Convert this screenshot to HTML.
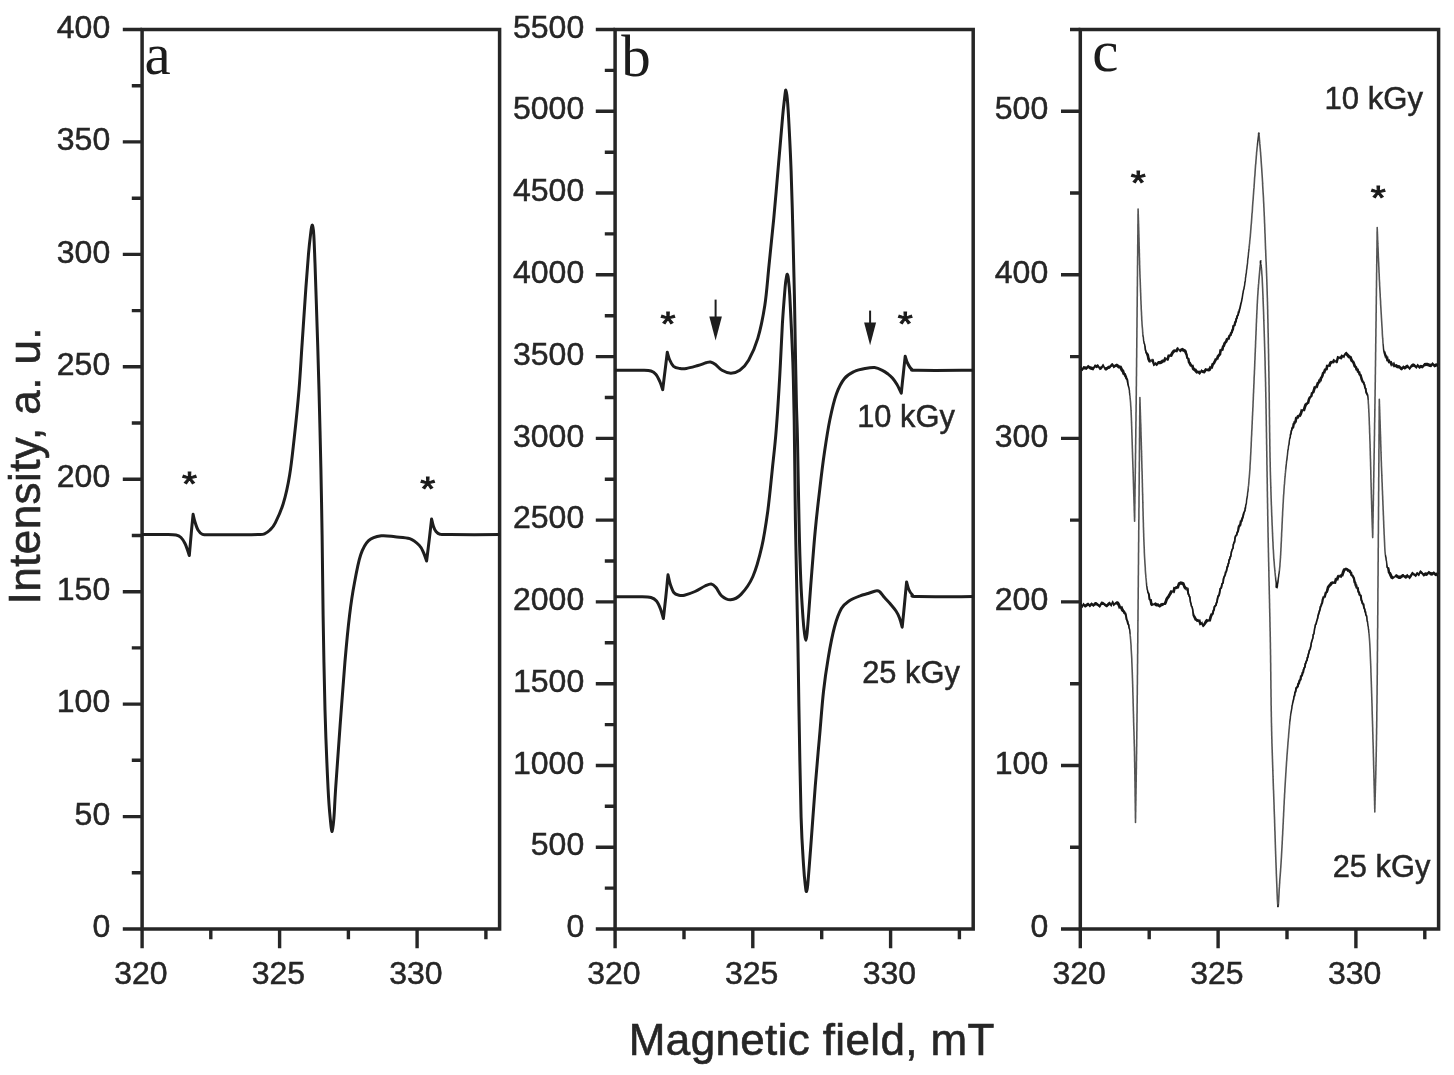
<!DOCTYPE html>
<html lang="en">
<head>
<meta charset="utf-8">
<title>EPR spectra</title>
<style>
html,body{margin:0;padding:0;background:#fff;}
body{width:1454px;height:1075px;overflow:hidden;}
svg{display:block;filter:blur(0.45px);}
text{font-family:"Liberation Sans",Arial,sans-serif;fill:#262626;}
.tk{font-size:32px;stroke:#262626;stroke-width:0.5px;}
.lb{font-size:32px;stroke:#262626;stroke-width:0.5px;}
.ax{font-size:44px;stroke:#262626;stroke-width:0.6px;}
.pl{font-family:"Liberation Serif","Times New Roman",serif;font-size:59px;fill:#1c1c1c;}
.st{fill:#1a1a1a;stroke:#1a1a1a;stroke-width:1px;}
</style>
</head>
<body>
<svg width="1454" height="1075" viewBox="0 0 1454 1075">
<rect width="1454" height="1075" fill="#ffffff"/>
<g id="axes">
<rect x="142.1" y="29.5" width="357.5" height="899.5" fill="none" stroke="#262626" stroke-width="3.5"/>
<path d="M142.1 929V948.3M279.6 929V948.3M417.1 929V948.3M210.8 929V939.3M348.4 929V939.3M485.9 929V939.3" stroke="#262626" stroke-width="3.4" fill="none"/>
<text x="140.9" y="984.2" text-anchor="middle" class="tk">320</text>
<text x="278.4" y="984.2" text-anchor="middle" class="tk">325</text>
<text x="415.9" y="984.2" text-anchor="middle" class="tk">330</text>
<rect x="615.1" y="29.5" width="358.1" height="899.5" fill="none" stroke="#262626" stroke-width="3.5"/>
<path d="M615.1 929V948.3M752.8 929V948.3M890.6 929V948.3M684 929V939.3M821.7 929V939.3M959.4 929V939.3" stroke="#262626" stroke-width="3.4" fill="none"/>
<text x="613.9" y="984.2" text-anchor="middle" class="tk">320</text>
<text x="751.6" y="984.2" text-anchor="middle" class="tk">325</text>
<text x="889.4" y="984.2" text-anchor="middle" class="tk">330</text>
<rect x="1080.3" y="29.5" width="358.3" height="899.5" fill="none" stroke="#262626" stroke-width="3.5"/>
<path d="M1080.3 929V948.3M1218.1 929V948.3M1355.9 929V948.3M1149.2 929V939.3M1287 929V939.3M1424.8 929V939.3" stroke="#262626" stroke-width="3.4" fill="none"/>
<text x="1079.1" y="984.2" text-anchor="middle" class="tk">320</text>
<text x="1216.9" y="984.2" text-anchor="middle" class="tk">325</text>
<text x="1354.7" y="984.2" text-anchor="middle" class="tk">330</text>
<path d="M122.8 929H142.1M122.8 816.6H142.1M122.8 704.1H142.1M122.8 591.7H142.1M122.8 479.3H142.1M122.8 366.8H142.1M122.8 254.4H142.1M122.8 141.9H142.1M122.8 29.5H142.1M131.8 872.8H142.1M131.8 760.3H142.1M131.8 647.9H142.1M131.8 535.5H142.1M131.8 423H142.1M131.8 310.6H142.1M131.8 198.2H142.1M131.8 85.7H142.1" stroke="#262626" stroke-width="3.4" fill="none"/>
<text x="110.2" y="937.1" text-anchor="end" class="tk">0</text>
<text x="110.2" y="824.7" text-anchor="end" class="tk">50</text>
<text x="110.2" y="712.2" text-anchor="end" class="tk">100</text>
<text x="110.2" y="599.8" text-anchor="end" class="tk">150</text>
<text x="110.2" y="487.4" text-anchor="end" class="tk">200</text>
<text x="110.2" y="374.9" text-anchor="end" class="tk">250</text>
<text x="110.2" y="262.5" text-anchor="end" class="tk">300</text>
<text x="110.2" y="150" text-anchor="end" class="tk">350</text>
<text x="110.2" y="37.6" text-anchor="end" class="tk">400</text>
<path d="M595.8 929H615.1M595.8 847.2H615.1M595.8 765.5H615.1M595.8 683.7H615.1M595.8 601.9H615.1M595.8 520.1H615.1M595.8 438.4H615.1M595.8 356.6H615.1M595.8 274.8H615.1M595.8 193H615.1M595.8 111.3H615.1M595.8 29.5H615.1M604.8 888.1H615.1M604.8 806.3H615.1M604.8 724.6H615.1M604.8 642.8H615.1M604.8 561H615.1M604.8 479.2H615.1M604.8 397.5H615.1M604.8 315.7H615.1M604.8 233.9H615.1M604.8 152.2H615.1M604.8 70.4H615.1" stroke="#262626" stroke-width="3.4" fill="none"/>
<text x="584.2" y="937.1" text-anchor="end" class="tk">0</text>
<text x="584.2" y="855.3" text-anchor="end" class="tk">500</text>
<text x="584.2" y="773.6" text-anchor="end" class="tk">1000</text>
<text x="584.2" y="691.8" text-anchor="end" class="tk">1500</text>
<text x="584.2" y="610" text-anchor="end" class="tk">2000</text>
<text x="584.2" y="528.2" text-anchor="end" class="tk">2500</text>
<text x="584.2" y="446.5" text-anchor="end" class="tk">3000</text>
<text x="584.2" y="364.7" text-anchor="end" class="tk">3500</text>
<text x="584.2" y="282.9" text-anchor="end" class="tk">4000</text>
<text x="584.2" y="201.1" text-anchor="end" class="tk">4500</text>
<text x="584.2" y="119.4" text-anchor="end" class="tk">5000</text>
<text x="584.2" y="37.6" text-anchor="end" class="tk">5500</text>
<path d="M1061 929H1080.3M1061 765.5H1080.3M1061 601.9H1080.3M1061 438.4H1080.3M1061 274.8H1080.3M1061 111.3H1080.3M1070 847.2H1080.3M1070 683.7H1080.3M1070 520.1H1080.3M1070 356.6H1080.3M1070 193H1080.3M1070 29.5H1080.3" stroke="#262626" stroke-width="3.4" fill="none"/>
<text x="1048.2" y="937.1" text-anchor="end" class="tk">0</text>
<text x="1048.2" y="773.6" text-anchor="end" class="tk">100</text>
<text x="1048.2" y="610" text-anchor="end" class="tk">200</text>
<text x="1048.2" y="446.5" text-anchor="end" class="tk">300</text>
<text x="1048.2" y="282.9" text-anchor="end" class="tk">400</text>
<text x="1048.2" y="119.4" text-anchor="end" class="tk">500</text>
</g>
<g id="curves" fill="none" stroke="#1e1e1e" stroke-linejoin="round" stroke-linecap="butt">
<path d="M142 534.5C145.8 534.5 159.3 534.4 165 534.5C170.7 534.6 173.3 534.5 176 535C178.7 535.5 179.5 536.1 181 537.5C182.5 538.9 183.9 541.4 185 543.5C186.1 545.6 186.8 548 187.5 550C188.2 552 189 554.6 189.3 555.5C189.6 551.9 190.6 540.9 191.2 534C191.8 527.1 192.8 517.6 193.1 514.3C193.4 515.6 194.2 519.4 195 522C195.8 524.6 196.8 528 198 530C199.2 532 200.2 533.5 202.5 534.3C204.8 535.1 205.8 534.7 212 534.8C218.2 534.9 232.3 534.8 240 534.8C247.7 534.8 253.9 534.8 258 534.6C262.1 534.4 262.5 534.6 264.5 533.8C266.5 533 268.2 531.8 270 530C271.8 528.2 273.1 527.2 275.3 522.8C277.5 518.4 280.8 511.7 283.2 503.8C285.6 495.9 287.8 486.4 289.6 475.3C291.5 464.2 292.7 451.5 294.3 437.3C295.9 423.1 297.7 405.7 299 389.9C300.3 374.1 301.1 358.2 302.2 342.4C303.3 326.6 304.3 309.7 305.4 294.9C306.4 280.1 307.6 264.2 308.5 253.8C309.4 243.4 310.2 237.3 310.8 232.5C311.4 227.7 311.9 224.8 312.4 225.2C312.9 225.6 313.4 228.7 313.8 235C314.2 241.3 314.4 248 315 263.3C315.6 278.6 316.4 305.5 317.1 326.6C317.8 347.7 318.4 366.2 319 389.9C319.6 413.6 320.4 444.8 320.9 469C321.4 493.2 321.7 510.7 322.1 535C322.5 559.3 322.6 585.8 323.1 615C323.6 644.2 324.2 681 325 710C325.8 739 327.2 770.7 328.1 789C329 807.3 329.7 812.9 330.4 820C331.1 827.1 331.6 831.8 332.2 831.5C332.8 831.2 333.3 825.1 333.9 818C334.5 810.9 334.6 804.4 335.6 789C336.6 773.6 338.6 746.8 340.1 725.7C341.7 704.6 343.3 680.9 344.9 662.4C346.5 643.9 348 628.2 349.6 615C351.2 601.8 352.5 593.3 354.4 583.3C356.2 573.3 358.3 561.9 360.7 554.8C363.1 547.7 365.2 543.8 368.6 540.6C372 537.4 376.9 536.4 381.3 535.8C385.7 535.2 390.3 536.3 395 536.8C399.7 537.3 405.7 537.2 409.7 538.6C413.7 540 416.9 543 419.2 545.3C421.5 547.6 422.3 549.9 423.5 552.5C424.7 555.1 426.1 559.6 426.6 561C427 557.5 428.4 547 429.2 540C430 533 431.2 522.5 431.6 519C431.9 520.2 432.8 524.4 433.5 526.5C434.2 528.6 434.9 530.2 436 531.5C437.1 532.8 437.7 533.7 440 534.2C442.3 534.7 440.1 534.5 450 534.6C459.9 534.7 491.2 534.6 499.5 534.6" stroke-width="3"/>
<path d="M615.1 596.7C619.6 596.7 636 596.6 642 596.7C648 596.8 648.6 596.8 651 597.5C653.4 598.2 654.9 599.1 656.5 601C658.1 602.9 659.4 606.1 660.5 609C661.6 611.9 662.9 616.9 663.4 618.5C663.8 614.9 665 604.3 665.8 597C666.6 589.7 667.6 578.5 668 574.8C668.4 576.3 669.2 581 670.2 584C671.2 587 672.5 590.9 674 592.8C675.5 594.7 677.3 594.8 679 595.2C680.7 595.6 681.7 595.8 684.4 595.2C687.1 594.6 691.6 593 695 591.5C698.4 590 702.3 587.2 705 586C707.7 584.8 709.4 583.8 711.2 584C713 584.2 714.3 585.5 716 587.5C717.7 589.5 719.2 593.8 721.6 595.8C724 597.8 727.4 600 730.6 599.8C733.8 599.6 737.3 598.3 741 594.4C744.7 590.5 749.4 584.5 752.9 576.5C756.4 568.5 759.3 557.6 761.8 546.7C764.3 535.8 766 523.9 767.8 511C769.5 498.1 770.9 482.8 772.3 469.3C773.7 455.8 775 445.7 776.2 430C777.5 414.3 778.8 392.7 779.8 375C780.8 357.3 781.5 338.3 782.4 323.7C783.3 309.1 784.5 295.1 785.1 287.5C785.8 279.9 785.9 280.2 786.3 278C786.7 275.8 786.9 274 787.3 274.2C787.6 274.4 788 275.4 788.4 279C788.8 282.6 789.3 286.8 789.8 295.8C790.3 304.8 791 320.6 791.6 333C792.2 345.4 792.7 355.7 793.1 370.2C793.5 384.7 793.8 395 794.2 420C794.6 445 795 493.2 795.4 520C795.8 546.8 796.2 560.2 796.6 580.7C797 601.2 797.5 622 797.9 643C798.3 664 798.4 677.5 798.9 706.5C799.4 735.5 800.3 790.6 801.1 817.2C801.9 843.8 802.9 854.5 803.6 866C804.3 877.5 804.9 881.8 805.4 886C805.9 890.2 806.1 891.7 806.5 891.5C806.9 891.3 807 892.1 807.7 885C808.4 877.9 809.3 865.4 810.6 848.8C811.9 832.2 813.8 804 815.3 785.5C816.8 767 818 753.8 819.4 738.1C820.8 722.4 822 704.9 823.5 691.5C825 678.1 826.5 668.2 828.3 657.5C830.1 646.8 832.3 635.1 834.5 627C836.7 618.9 839 612.9 841.4 608.6C843.8 604.3 845.9 603.1 849 601C852.1 598.9 856.8 597 860 595.8C863.2 594.5 865.2 594.3 868 593.5C870.8 592.7 874.5 591 876.5 590.8C878.5 590.5 878.7 590.9 880 592C881.3 593.1 882.8 595.6 884.5 597.5C886.2 599.4 888.1 601.2 890 603.5C891.9 605.8 894.4 608.6 896 611C897.6 613.4 898.5 615.3 899.5 618C900.5 620.7 901.8 625.7 902.2 627.2C902.6 623.3 903.8 611.5 904.5 604C905.2 596.5 906.2 585.7 906.6 582C907 583.2 907.9 587.4 908.8 589.5C909.7 591.6 910.7 593.4 912.2 594.6C913.7 595.8 907.8 596.3 918 596.6C928.2 596.9 964 596.6 973.2 596.6" stroke-width="3"/>
<path d="M615.1 370.3C619.6 370.3 636 370.2 642 370.3C648 370.4 648.7 370.3 651 371C653.3 371.7 654.5 372.7 656 374.5C657.5 376.3 658.9 379.5 660 382C661.1 384.5 662.2 388.4 662.7 389.7C663.1 386.6 664.2 377.2 665 371C665.8 364.8 666.9 355.4 667.3 352.3C667.7 353.5 668.5 357.2 669.5 359.5C670.5 361.8 671.9 364.8 673.6 366.3C675.4 367.8 677.9 368.1 680 368.5C682.1 368.9 683.3 369 686.3 368.5C689.3 368 694.7 366.4 698 365.5C701.3 364.6 703.9 363.4 706 362.8C708.1 362.2 708.9 361.7 710.5 362C712.1 362.3 713.6 363.1 715.5 364.5C717.4 365.9 719.4 368.9 722 370.3C724.6 371.8 727.9 373.2 730.9 373.2C733.9 373.2 736.8 372.4 739.8 370.3C742.8 368.2 745.6 365.6 748.6 360.3C751.6 355 755.1 347.5 757.8 338.4C760.5 329.3 762.9 317.6 764.8 305.5C766.7 293.4 767.5 280.1 769 265.5C770.5 250.9 772.2 234.9 773.8 218.1C775.4 201.2 777 181.3 778.5 164.4C780 147.5 781.6 128 782.6 116.9C783.6 105.8 784.1 102.5 784.6 98C785.1 93.5 785.5 89.8 785.9 90C786.3 90.2 786.8 93.5 787.3 99C787.8 104.5 788.3 111.2 788.9 123.2C789.5 135.2 790.4 151.2 791.1 170.7C791.8 190.2 792.6 219.1 793.1 240C793.6 260.9 794 277.3 794.4 296C794.8 314.7 795 333.5 795.4 352C795.8 370.5 796.1 392.3 796.5 407C796.9 421.7 797.1 421.2 797.5 440C797.9 458.8 798.5 496.6 799 520C799.5 543.5 800.1 564.4 800.8 580.7C801.5 597 802.4 609.1 803 618C803.6 626.9 804.1 630.3 804.6 634C805.1 637.7 805.4 640.3 805.8 640.3C806.2 640.3 806.5 638.7 807 634C807.5 629.3 808 622.3 808.8 612C809.6 601.7 810.7 585.5 811.8 572C812.9 558.5 813.9 544.8 815.2 531C816.5 517.2 818.2 502.2 819.8 489C821.3 475.8 822.8 463.5 824.5 452C826.2 440.5 827.8 429.7 829.8 420C831.8 410.3 833.9 400.9 836.4 394C838.9 387.1 841.5 382.2 844.5 378.5C847.5 374.8 850.9 373.2 854.3 371.5C857.7 369.8 861.6 369.1 865 368.5C868.4 367.9 871.7 367.3 874.6 367.6C877.5 367.9 880.1 369.2 882.3 370.3C884.5 371.4 886.3 372.7 888 374C889.7 375.3 890.9 376.2 892.4 378C893.9 379.8 895.5 382 897 384.5C898.5 387 900.6 391.8 901.3 393.2C901.6 390 902.6 380.2 903.3 374C903.9 367.8 904.9 359.2 905.2 356.2C905.6 357.3 906.5 360.9 907.5 363C908.5 365.1 909.8 367.8 911.5 369C913.2 370.2 907.7 370.1 918 370.3C928.3 370.5 964 370.3 973.2 370.3" stroke-width="3"/>
</g>
<g id="curvesC">
<polyline points="1080.3,605.3 1081.2,604.6 1082.2,606.6 1083.5,604.2 1084.9,606.1 1086.5,605.3 1088.1,604.1 1089.8,605.8 1091.6,603.9 1093.3,605.3 1095,603.8 1096.5,603.7 1098,604.9 1099.7,606.3 1101.4,603.3 1103.2,603.4 1104.9,604.8 1106.7,605.9 1108.3,604.2 1109.9,603.3 1111.3,605.5 1112.6,601.7 1113.7,604.9 1116,602.9 1117.2,602.8 1118,603.5 1119,605.3 1120,608.1 1121.1,606.7 1122.1,609.5 1123.1,611 1124,611.5 1124.6,613.4 1125.1,613 1125.7,614.5 1126.1,616.5 1126.6,619.5 1127.1,620.3 1127.5,621.4 1127.9,623.6 1128.3,624.3 1128.7,625 1129,627.5 1129.4,628.7 1129.7,629.8 1130,633.1 1130.1,634 1130.2,635.4 1130.3,636.3 1130.4,637.1 1130.5,638.8 1130.6,639.3 1130.7,640.8 1130.8,642.3 1130.9,643.3 1131,644.8 1131.1,646 1131.1,647.8 1131.2,649.3 1131.3,650.8 1131.4,652.5 1131.5,654 1131.6,655.8 1131.7,657.5 1131.8,659.3 1131.8,661.1 1131.9,663.1 1132,665.1 1132,666.2 1132.1,667.5 1132.1,668.6 1132.2,670.1 1132.2,671.4 1132.3,672.9 1132.3,674.3 1132.4,675.6 1132.4,677.1 1132.5,678.7 1132.5,680.1 1132.6,681.7 1132.6,683.2 1132.7,684.8 1132.7,686.4 1132.8,688.1 1132.8,689.6 1132.8,691.2 1132.9,692.9 1132.9,694.5 1133,696.1 1133,697.7 1133.1,699.3 1133.1,701 1133.1,702.6 1133.2,704.1 1133.2,705.7 1133.3,707.2 1133.3,708.7 1133.3,710.3 1133.4,711.8 1133.4,713.2 1133.5,714.6 1133.5,716 1133.5,717.4 1133.6,718.7 1133.6,720 1133.6,721.7 1133.7,723.4 1133.7,725.1 1133.8,726.6 1133.8,728.1 1133.9,729.7 1133.9,731 1134,732.4 1134,733.7 1134,735.1 1134.1,736.3 1134.1,737.7 1134.1,739 1134.2,740.3 1134.2,741.7 1134.2,743 1134.3,744.3 1134.3,745.7 1134.4,747.2 1134.4,748.6 1134.4,750.2 1134.5,751.8 1134.5,753.5 1134.5,755.2 1134.6,757.1 1134.6,759 1134.6,760.2 1134.6,761.5 1134.7,762.8 1134.7,764.2 1134.7,765.6 1134.7,767.1 1134.8,768.6 1134.8,770.1 1134.8,771.7 1134.8,773.3 1134.9,775 1134.9,776.7 1134.9,778.4 1134.9,780 1135,781.8 1135,783.5 1135,785.2 1135,787 1135.1,788.7 1135.1,790.5 1135.1,792.2 1135.1,793.9 1135.1,795.6 1135.2,797.3 1135.2,799 1135.2,800.6 1135.2,802.3 1135.3,803.9 1135.3,805.4 1135.3,807 1135.3,808.5 1135.3,809.9 1135.4,811.3 1135.4,812.7 1135.4,814 1135.4,815.2 1135.4,816.5 1135.4,817.6 1135.5,818.6 1135.5,819.7 1135.5,820.6 1135.5,821.4 1135.5,822.3 1135.5,822.5 1135.5,821.5 1135.5,820.7 1135.5,820 1135.5,819.2 1135.6,818.4 1135.6,817.6 1135.6,816.9 1135.6,816.1 1135.6,815.3 1135.6,814.4 1135.6,813.6 1135.6,812.7 1135.7,811.9 1135.7,811 1135.7,810.1 1135.7,809.2 1135.7,808.3 1135.7,807.3 1135.7,806.4 1135.8,805.4 1135.8,804.5 1135.8,803.5 1135.8,802.5 1135.8,801.4 1135.9,800.4 1135.9,799.3 1135.9,798.3 1135.9,797.2 1135.9,796.1 1135.9,795 1136,793.8 1136,792.6 1136,791.5 1136,790.3 1136,789.1 1136.1,787.8 1136.1,786.6 1136.1,785.3 1136.1,784 1136.1,782.7 1136.2,781.3 1136.2,780 1136.2,778.6 1136.2,777.2 1136.2,775.8 1136.3,774.3 1136.3,772.9 1136.3,771.4 1136.3,769.9 1136.4,768.3 1136.4,766.8 1136.4,765.2 1136.4,763.5 1136.4,761.9 1136.5,760.3 1136.5,758.6 1136.5,756.9 1136.5,755.1 1136.6,753.4 1136.6,751.6 1136.6,749.8 1136.6,747.9 1136.7,746.1 1136.7,744.2 1136.7,742.2 1136.7,740.3 1136.8,738.3 1136.8,736.3 1136.8,734.3 1136.8,732.2 1136.9,730.1 1136.9,728 1136.9,725.8 1136.9,723.6 1137,721.4 1137,719.1 1137,716.9 1137,714.6 1137.1,712.2 1137.1,709.8 1137.1,707.4 1137.1,705 1137.2,702.5 1137.2,700 1137.2,699 1137.2,697.9 1137.2,696.9 1137.2,695.8 1137.3,694.7 1137.3,693.6 1137.3,692.5 1137.3,691.4 1137.3,690.2 1137.3,689.1 1137.3,687.9 1137.3,686.7 1137.3,685.5 1137.4,684.3 1137.4,683.1 1137.4,681.8 1137.4,680.6 1137.4,679.3 1137.4,678 1137.4,676.8 1137.4,675.5 1137.5,674.2 1137.5,672.8 1137.5,671.5 1137.5,670.2 1137.5,668.8 1137.5,667.4 1137.5,666 1137.5,664.6 1137.6,663.3 1137.6,661.8 1137.6,660.4 1137.6,659 1137.6,657.5 1137.6,656.1 1137.6,654.6 1137.7,653.2 1137.7,651.7 1137.7,650.2 1137.7,648.7 1137.7,647.2 1137.7,645.7 1137.7,644.1 1137.8,642.6 1137.8,641.1 1137.8,639.5 1137.8,638 1137.8,636.4 1137.8,634.8 1137.8,633.2 1137.9,631.7 1137.9,630.1 1137.9,628.5 1137.9,626.9 1137.9,625.2 1137.9,623.6 1137.9,622 1138,620.4 1138,618.7 1138,617.1 1138,615.4 1138,613.8 1138,612.1 1138,610.4 1138.1,608.8 1138.1,607.1 1138.1,605.4 1138.1,603.7 1138.1,602 1138.1,600.3 1138.2,598.6 1138.2,596.9 1138.2,595.2 1138.2,593.5 1138.2,591.8 1138.2,590.1 1138.2,588.4 1138.3,586.6 1138.3,584.9 1138.3,583.2 1138.3,581.5 1138.3,579.7 1138.3,578 1138.3,576.3 1138.4,574.5 1138.4,572.8 1138.4,571 1138.4,569.3 1138.4,567.6 1138.4,565.8 1138.5,564.1 1138.5,562.3 1138.5,560.6 1138.5,558.8 1138.5,557.1 1138.5,555.3 1138.5,553.6 1138.6,551.8 1138.6,550.1 1138.6,548.3 1138.6,546.6 1138.6,544.8 1138.6,543.1 1138.7,541.4 1138.7,539.6 1138.7,537.9 1138.7,536.1 1138.7,534.4 1138.7,532.7 1138.7,530.9 1138.8,529.2 1138.8,527.5 1138.8,525.8 1138.8,524 1138.8,522.3 1138.8,520.6 1138.9,518.9 1138.9,517.2 1138.9,515.5 1138.9,513.8 1138.9,512.1 1138.9,510.4 1138.9,508.7 1139,507 1139,505.3 1139,503.7 1139,502 1139,500.3 1139,498.7 1139,497 1139.1,495.4 1139.1,493.7 1139.1,492.1 1139.1,490.5 1139.1,488.9 1139.1,487.2 1139.1,485.6 1139.2,484 1139.2,482.4 1139.2,480.8 1139.2,479.2 1139.2,477.7 1139.2,476.1 1139.2,474.5 1139.2,473 1139.3,471.4 1139.3,469.9 1139.3,468.4 1139.3,466.9 1139.3,465.4 1139.3,463.8 1139.3,462.4 1139.4,460.9 1139.4,459.4 1139.4,457.9 1139.4,456.5 1139.4,455 1139.4,453.6 1139.4,452.2 1139.4,450.8 1139.5,449.4 1139.5,448 1139.5,446.6 1139.5,445.2 1139.5,443.8 1139.5,442.5 1139.5,441.1 1139.5,439.8 1139.5,438.5 1139.6,437.2 1139.6,435.9 1139.6,434.6 1139.6,433.4 1139.6,432.1 1139.6,430.9 1139.6,429.6 1139.6,428.4 1139.6,427.2 1139.7,426 1139.7,424.8 1139.7,423.7 1139.7,422.5 1139.7,421.4 1139.7,420.3 1139.7,419.2 1139.7,418.1 1139.7,417 1139.7,415.9 1139.8,414.9 1139.8,413.8 1139.8,412.8 1139.8,411.8 1139.8,410.8 1139.8,409.9 1139.8,408.9 1139.8,408 1139.8,407 1139.8,406.1 1139.8,405.3 1139.8,404.4 1139.9,403.5 1139.9,402.7 1139.9,401.9 1139.9,401 1139.9,400.3 1139.9,399.5 1139.9,398.7 1139.9,397.5 1139.9,397.9 1139.9,398.7 1140,399.7 1140,400.7 1140,401.8 1140.1,403 1140.1,404.2 1140.1,405.6 1140.2,406.9 1140.2,408.5 1140.3,410 1140.3,411.5 1140.4,413.2 1140.4,414.8 1140.5,416.4 1140.5,418.2 1140.6,419.8 1140.6,421.5 1140.7,423.3 1140.8,425 1140.8,426.7 1140.9,428.4 1140.9,430.1 1140.9,431.3 1141,432.6 1141,433.9 1141,435.1 1141.1,436.4 1141.1,437.6 1141.2,438.8 1141.2,440 1141.2,441.2 1141.3,442.5 1141.3,443.8 1141.3,445 1141.4,446.3 1141.4,447.6 1141.4,449 1141.5,450.4 1141.5,451.9 1141.6,453.4 1141.6,454.9 1141.6,456.4 1141.7,458.1 1141.7,459.8 1141.8,461.5 1141.8,463.3 1141.9,465.3 1141.9,467.2 1142,469.3 1142,470.5 1142.1,471.6 1142.1,472.8 1142.1,474.1 1142.2,475.4 1142.2,476.7 1142.2,478 1142.3,479.4 1142.3,480.8 1142.3,482.2 1142.4,483.7 1142.4,485.1 1142.4,486.6 1142.5,488.2 1142.5,489.7 1142.5,491.3 1142.6,492.8 1142.6,494.4 1142.7,496 1142.7,497.6 1142.7,499.2 1142.8,500.8 1142.8,502.4 1142.9,504 1142.9,505.7 1142.9,507.3 1143,509 1143,510.6 1143.1,512.2 1143.1,513.8 1143.1,515.5 1143.2,517 1143.2,518.7 1143.3,520.3 1143.3,521.8 1143.4,523.4 1143.4,524.9 1143.4,526.5 1143.5,527.9 1143.5,529.4 1143.6,530.8 1143.6,532.3 1143.7,533.7 1143.7,535 1143.7,536.4 1143.8,537.6 1143.8,538.9 1143.9,540.1 1143.9,541.5 1144,542.5 1144,543.8 1144.1,545.8 1144.2,547.9 1144.3,549.9 1144.3,551.8 1144.4,553.7 1144.5,555.7 1144.6,557.5 1144.7,559.2 1144.8,560.8 1144.9,562.5 1145,564.1 1145.1,565.4 1145.2,567 1145.3,568 1145.3,569.8 1145.4,570.9 1145.5,572.4 1145.6,573.6 1145.7,574.6 1145.8,575.6 1145.9,577.4 1146,577.9 1146.1,579.3 1146.2,580.2 1146.3,581.2 1146.4,582.7 1146.7,585.7 1146.9,586.8 1147.2,589.3 1147.5,590.1 1147.8,591.9 1148.1,592.6 1148.4,592.9 1148.7,593.9 1149,595.1 1149.5,599.3 1150,599.6 1150.6,600 1151.4,603.8 1152.4,605.2 1153.6,604 1155,603.7 1156.5,604.8 1158.1,604.9 1159.7,606.1 1161.3,604.7 1162.2,604.7 1163.1,603.9 1163.9,604 1164.8,604 1165.7,602.1 1166.6,599.4 1167.5,597.9 1168.4,596.9 1169.3,595 1170.3,593.7 1171.3,591.4 1172.4,591 1173.5,592.4 1174.6,587.9 1175.7,588.1 1176.8,587.4 1177.9,587.3 1178.9,583.9 1179.8,583.4 1180.7,582.9 1182.2,583.3 1183.5,584 1184.6,587.1 1185.6,588.1 1186.6,589.8 1187.1,587.7 1187.6,589 1188.1,592.6 1188.5,594.6 1188.9,594.8 1189.3,596.6 1189.7,596.5 1190.1,599.2 1190.5,602.2 1190.9,603.3 1191.2,604.8 1191.6,606.6 1191.9,606.3 1192.2,607.5 1192.6,609.1 1192.9,611.6 1193.3,613.4 1193.6,615.6 1194,616 1194.9,617.8 1195.9,619.8 1196.9,619.8 1198,621.2 1199.2,620.3 1200.4,624.2 1201.7,622.8 1203,625.8 1204.3,624.4 1205.6,622.3 1206.8,620.6 1208,620 1209,620.8 1209.8,620.3 1210.7,616.7 1212,613.6 1212.4,614.4 1212.7,613.6 1213.1,611.8 1213.6,610.1 1214,610.1 1214.4,606.8 1214.9,606.4 1215.4,605.4 1215.9,605.5 1216.4,603 1216.9,602.2 1217.4,599.3 1217.9,597 1218.4,595.4 1218.9,596.1 1219.4,593.7 1219.9,590.8 1220.4,588.4 1220.9,588.4 1221.3,587.6 1221.8,585.4 1222.2,583.5 1222.6,583.4 1223.1,582.8 1223.5,579.2 1223.9,577.1 1224.4,576.6 1224.8,575.4 1225.2,574.8 1225.7,571.9 1226.1,572.2 1226.5,570.6 1226.9,568.4 1227.4,566.1 1227.8,567 1228.2,563.6 1228.6,563.7 1229,560.5 1229.4,559.1 1229.8,559.4 1230.2,556.5 1230.6,557 1231.1,554.1 1231.5,551.7 1231.9,550.4 1232.2,549.5 1232.6,548.7 1233,548.1 1233.4,544.3 1233.8,543.6 1234.2,541.7 1234.5,542.5 1234.9,538.7 1235.3,537 1235.7,535.7 1236,535.3 1236.4,535.6 1236.8,534.3 1237.2,532.5 1237.7,531.9 1238.2,530.2 1238.7,526.9 1239.3,525.1 1239.8,526.4 1240.3,524.5 1240.9,520.8 1241.4,521.7 1241.9,519.5 1242.4,518.2 1242.9,516.7 1243.4,514.8 1243.8,512.8 1244.3,512.1 1244.7,510.6 1245,511 1245.2,507.6 1245.5,508.4 1245.7,505.4 1246,504.5 1246.2,504.1 1246.4,502.8 1246.6,500.7 1246.8,498.7 1247,498 1247.2,496.4 1247.4,495.8 1247.6,493.3 1247.8,492 1248,491.1 1248.2,488.4 1248.3,487.2 1248.5,485.9 1248.7,484.1 1248.9,481.6 1249,479.7 1249.2,477.8 1249.3,477.3 1249.4,475.6 1249.5,474.6 1249.6,473.4 1249.7,471.7 1249.8,470.4 1249.9,469.4 1250,467.8 1250,466.2 1250.1,465 1250.2,463.3 1250.3,461.9 1250.4,460.3 1250.5,459 1250.5,457.6 1250.6,456 1250.7,454.5 1250.8,452.7 1250.9,451.2 1250.9,449.7 1251,448.3 1251.1,446.7 1251.2,444.9 1251.2,443.3 1251.3,441.8 1251.4,440.2 1251.4,438.8 1251.5,437 1251.6,435.6 1251.7,434 1251.7,432.5 1251.8,430.9 1251.9,429.3 1252,427.7 1252,426.2 1252.1,424.7 1252.2,423.3 1252.2,421.7 1252.3,420.3 1252.4,419 1252.4,417.4 1252.5,415.9 1252.6,414.5 1252.6,413.2 1252.7,411.8 1252.8,410.5 1252.8,409.1 1252.9,407.7 1253,406.1 1253,404.7 1253.1,403.3 1253.1,401.9 1253.2,400.6 1253.3,399.1 1253.3,397.6 1253.4,396.2 1253.4,394.8 1253.5,393.4 1253.6,391.9 1253.6,390.5 1253.7,389 1253.8,387.3 1253.8,386 1253.9,384.3 1254,382.9 1254,381.3 1254.1,379.8 1254.1,378.1 1254.2,376.5 1254.3,374.9 1254.4,373.2 1254.4,371.8 1254.5,370 1254.6,368.6 1254.6,367.3 1254.7,366.1 1254.7,364.6 1254.8,363.1 1254.8,361.8 1254.9,360.3 1255,359 1255,357.3 1255.1,355.9 1255.1,354.4 1255.2,352.9 1255.3,351.4 1255.3,349.6 1255.4,348.1 1255.5,346.5 1255.5,345 1255.6,343.6 1255.6,341.9 1255.7,340.4 1255.8,338.7 1255.8,337.2 1255.9,335.5 1256,333.9 1256,332.4 1256.1,330.9 1256.2,329.1 1256.2,327.7 1256.3,326.1 1256.3,324.5 1256.4,323 1256.5,321.4 1256.5,319.9 1256.6,318.5 1256.7,317.1 1256.7,315.6 1256.8,314.1 1256.9,312.6 1256.9,311.3 1257,310 1257.1,308.5 1257.1,307.3 1257.2,305.9 1257.2,304.9 1257.3,303.5 1257.4,302.1 1257.4,301 1257.5,300 1257.6,298 1257.7,296 1257.9,293.7 1258,291.8 1258.1,290.3 1258.3,288.2 1258.4,286.4 1258.5,284.6 1258.7,283.4 1258.8,281.3 1258.9,279.8 1259.1,278.1 1259.2,276.7 1259.3,275.6 1259.4,274.3 1259.6,272.4 1259.7,270.9 1259.8,270.2 1259.9,268.5 1260,267.2 1260.1,267 1260.2,265.5 1260.3,264.9 1260.4,263.7 1260.4,263.6 1260.5,262.1 1260.5,260.9 1260.6,261.6 1260.7,263.6 1260.8,264.4 1260.9,265.5 1261,264.7 1261.1,266.4 1261.2,266.9 1261.4,268.2 1261.5,269.2 1261.7,271 1261.8,273.2 1262,275.7 1262.2,278 1262.3,281.3 1262.5,285.1 1262.5,286 1262.6,286.8 1262.6,287.7 1262.7,288.9 1262.7,289.9 1262.7,290.8 1262.8,291.8 1262.8,293 1262.9,294 1262.9,295.2 1263,296.2 1263,297.4 1263,298.4 1263.1,299.7 1263.1,300.8 1263.2,302.1 1263.2,303.4 1263.3,304.6 1263.3,305.8 1263.4,307.1 1263.4,308.4 1263.5,309.7 1263.5,311 1263.6,312.3 1263.6,313.7 1263.7,315.2 1263.7,316.6 1263.7,317.9 1263.8,319.4 1263.8,320.9 1263.9,322.3 1263.9,323.9 1264,325.2 1264,326.8 1264.1,328.3 1264.1,329.9 1264.2,331.4 1264.2,333 1264.3,334.6 1264.3,336.2 1264.4,337.8 1264.4,339.4 1264.5,341 1264.5,342.6 1264.6,344.4 1264.6,346 1264.7,347.7 1264.7,349.4 1264.8,351.1 1264.8,352.8 1264.9,354.5 1264.9,356.3 1265,358 1265,359.8 1265.1,361.6 1265.1,363.4 1265.1,365.2 1265.2,367 1265.2,368.8 1265.3,370.7 1265.3,372.5 1265.4,374.4 1265.4,376.3 1265.5,378.1 1265.5,380 1265.5,381.2 1265.6,382.4 1265.6,383.7 1265.6,384.8 1265.6,386.1 1265.7,387.4 1265.7,388.7 1265.7,390 1265.7,391.2 1265.8,392.6 1265.8,393.9 1265.8,395.2 1265.8,396.6 1265.9,397.9 1265.9,399.3 1265.9,400.7 1265.9,402 1266,403.4 1266,404.9 1266,406.3 1266,407.7 1266.1,409.1 1266.1,410.6 1266.1,412 1266.1,413.5 1266.2,415 1266.2,416.4 1266.2,417.9 1266.2,419.4 1266.3,420.9 1266.3,422.3 1266.3,423.9 1266.3,425.4 1266.4,426.9 1266.4,428.4 1266.4,430 1266.4,431.5 1266.5,433 1266.5,434.5 1266.5,436.1 1266.5,437.7 1266.6,439.2 1266.6,440.8 1266.6,442.3 1266.6,443.9 1266.7,445.4 1266.7,447 1266.7,448.6 1266.7,450.1 1266.8,451.7 1266.8,453.3 1266.8,454.8 1266.8,456.4 1266.9,458 1266.9,459.6 1266.9,461.1 1266.9,462.7 1266.9,464.3 1267,465.9 1267,467.4 1267,469 1267,470.5 1267.1,472.1 1267.1,473.7 1267.1,475.2 1267.1,476.8 1267.2,478.3 1267.2,479.9 1267.2,481.4 1267.2,483 1267.3,484.5 1267.3,486.1 1267.3,487.6 1267.3,489.1 1267.3,490.6 1267.4,492.1 1267.4,493.7 1267.4,495.1 1267.4,496.6 1267.5,498.1 1267.5,499.6 1267.5,501.1 1267.5,502.6 1267.6,504 1267.6,505.5 1267.6,506.9 1267.6,508.4 1267.7,509.8 1267.7,511.2 1267.7,512.6 1267.7,514 1267.7,515.4 1267.8,516.8 1267.8,518.2 1267.8,519.5 1267.8,520.9 1267.9,522.2 1267.9,523.5 1267.9,524.8 1267.9,526.2 1268,527.5 1268,528.7 1268,530 1268,531.7 1268.1,533.5 1268.1,535.2 1268.1,536.8 1268.2,538.6 1268.2,540.2 1268.2,541.9 1268.3,543.5 1268.3,545.2 1268.3,546.8 1268.4,548.5 1268.4,550.1 1268.4,551.7 1268.5,553.3 1268.5,554.9 1268.5,556.5 1268.6,558.1 1268.6,559.6 1268.6,561.2 1268.7,562.8 1268.7,564.3 1268.7,565.8 1268.8,567.3 1268.8,568.9 1268.8,570.4 1268.9,571.9 1268.9,573.4 1268.9,574.9 1268.9,576.4 1269,577.9 1269,579.3 1269,580.8 1269.1,582.3 1269.1,583.7 1269.1,585.2 1269.2,586.6 1269.2,588 1269.2,589.5 1269.3,591 1269.3,592.4 1269.3,593.8 1269.4,595.2 1269.4,596.6 1269.4,598 1269.5,599.4 1269.5,600.8 1269.5,602.2 1269.6,603.6 1269.6,605 1269.6,606.4 1269.6,607.7 1269.7,609.1 1269.7,610.4 1269.7,611.8 1269.8,613.2 1269.8,614.6 1269.8,615.9 1269.9,617.3 1269.9,618.6 1269.9,620 1269.9,621.3 1270,622.6 1270,624 1270,625.3 1270,626.7 1270.1,628 1270.1,629.4 1270.1,630.7 1270.2,632 1270.2,633.4 1270.2,634.7 1270.2,636 1270.3,637.4 1270.3,638.7 1270.3,640 1270.3,641.6 1270.4,643.3 1270.4,644.8 1270.4,646.5 1270.4,648 1270.5,649.6 1270.5,651.2 1270.5,652.7 1270.5,654.3 1270.6,655.8 1270.6,657.3 1270.6,658.9 1270.6,660.4 1270.6,661.9 1270.7,663.4 1270.7,664.9 1270.7,666.4 1270.7,667.9 1270.7,669.3 1270.7,670.8 1270.8,672.3 1270.8,673.7 1270.8,675.2 1270.8,676.6 1270.8,678.1 1270.8,679.5 1270.9,680.9 1270.9,682.4 1270.9,683.8 1270.9,685.2 1270.9,686.7 1270.9,688.1 1271,689.5 1271,690.9 1271,692.3 1271,693.7 1271,695.1 1271,696.5 1271.1,698 1271.1,699.4 1271.1,700.8 1271.1,702.2 1271.1,703.6 1271.1,705 1271.2,706.4 1271.2,707.8 1271.2,709.2 1271.2,710.6 1271.3,712.1 1271.3,713.5 1271.3,714.9 1271.3,716.3 1271.4,717.7 1271.4,719.2 1271.4,720.6 1271.4,722.1 1271.5,723.5 1271.5,724.9 1271.5,726.4 1271.6,727.8 1271.6,729.3 1271.6,730.7 1271.7,732.3 1271.7,733.7 1271.7,735.2 1271.8,736.7 1271.8,738.2 1271.9,739.8 1271.9,741.2 1271.9,742.7 1272,744.3 1272,745.8 1272.1,747.3 1272.1,748.8 1272.2,750.3 1272.2,751.9 1272.3,753.4 1272.3,755 1272.4,756.5 1272.4,758 1272.5,759.6 1272.5,761.1 1272.6,762.6 1272.6,764.2 1272.7,765.7 1272.7,767.3 1272.8,768.8 1272.8,770.4 1272.9,771.9 1272.9,773.4 1273,774.9 1273,776.4 1273.1,778 1273.1,779.4 1273.2,781.1 1273.2,782.4 1273.3,783.9 1273.3,785.4 1273.4,787 1273.4,788.5 1273.5,789.9 1273.6,791.5 1273.6,792.8 1273.7,794.3 1273.7,795.7 1273.8,797.2 1273.8,798.6 1273.9,800 1273.9,801.4 1274,802.8 1274,804.1 1274.1,805.6 1274.1,806.9 1274.1,808.3 1274.2,809.6 1274.2,810.9 1274.3,812.3 1274.3,813.6 1274.4,814.8 1274.4,816.1 1274.5,817.4 1274.5,818.6 1274.6,820.3 1274.6,822.1 1274.7,824 1274.7,825.7 1274.8,827.4 1274.8,829.1 1274.9,830.8 1275,832.5 1275,834.2 1275.1,835.9 1275.1,837.5 1275.2,839.2 1275.2,840.9 1275.3,842.5 1275.3,844 1275.4,845.7 1275.4,847.1 1275.5,848.7 1275.5,850.3 1275.6,851.8 1275.6,853.3 1275.7,854.7 1275.7,856.1 1275.8,857.6 1275.8,859 1275.9,860.4 1275.9,861.8 1276,863.1 1276,864.5 1276.1,865.9 1276.1,867.2 1276.2,868.4 1276.2,869.7 1276.3,870.9 1276.3,872 1276.3,873.3 1276.4,874.5 1276.4,875.7 1276.5,876.8 1276.5,877.8 1276.6,879 1276.6,880.1 1276.7,882.4 1276.8,884.7 1276.9,887 1277,889.2 1277,891.3 1277.1,893.2 1277.2,895.1 1277.3,896.8 1277.3,898.4 1277.4,899.8 1277.5,901.1 1277.6,902.5 1277.6,903.2 1277.7,904.3 1277.8,905.5 1277.8,906.2 1277.9,906.6 1278,905.4 1278.1,906.1 1278.2,905.9 1278.3,905.4 1278.4,904.1 1278.5,903 1278.6,901.6 1278.7,899.5 1278.8,897.8 1278.9,895.8 1279,893.6 1279.1,891.4 1279.2,889.5 1279.4,886.9 1279.5,885 1279.6,883.7 1279.7,882.8 1279.7,881.7 1279.8,880.3 1279.9,878.8 1280,877.8 1280.1,876.5 1280.2,875.3 1280.3,873.9 1280.4,872.6 1280.5,871.4 1280.6,869.8 1280.7,868.3 1280.8,867.2 1280.9,865.3 1281,864 1281.1,862.3 1281.2,860.9 1281.3,858.9 1281.4,857.7 1281.5,855.6 1281.6,853.8 1281.7,852 1281.8,850.3 1281.9,848.2 1282,847.2 1282,846 1282.1,844.8 1282.2,843.4 1282.2,842 1282.3,840.7 1282.4,839.5 1282.4,838.2 1282.5,836.6 1282.6,835.1 1282.7,833.8 1282.7,832.2 1282.8,830.6 1282.9,829.1 1283,827.8 1283,826.2 1283.1,824.7 1283.2,823.1 1283.3,821.5 1283.3,819.9 1283.4,818.5 1283.5,816.8 1283.6,815.3 1283.6,813.8 1283.7,812.2 1283.8,810.5 1283.9,808.9 1283.9,807.5 1284,805.8 1284.1,804.5 1284.2,802.8 1284.2,801.5 1284.3,799.8 1284.4,798.4 1284.5,796.9 1284.5,795.6 1284.6,794.1 1284.7,792.7 1284.8,791.6 1284.8,790.1 1284.9,788.8 1285,787.1 1285.1,785.5 1285.2,783.7 1285.3,782.1 1285.4,780.5 1285.5,778.7 1285.6,777.4 1285.7,775.7 1285.8,773.7 1285.9,772.5 1286,771 1286.1,769.4 1286.2,767.5 1286.3,766.4 1286.4,764.8 1286.5,762.9 1286.6,761.5 1286.7,760.6 1286.8,759 1286.9,757.3 1287,755.8 1287.1,754.4 1287.2,753.1 1287.3,752.1 1287.4,750.5 1287.5,749.1 1287.6,748.3 1287.7,746.9 1287.8,745.2 1287.9,744.5 1288,742.4 1288.2,740.8 1288.3,739 1288.5,737.5 1288.6,735.8 1288.7,734.2 1288.9,732.1 1289,731 1289.1,729.4 1289.3,728.1 1289.4,726.4 1289.5,725.5 1289.7,723.8 1289.8,722 1290,720.6 1290.1,719.2 1290.3,718.3 1290.4,716.3 1290.6,715.7 1290.8,713.8 1291,712.7 1291.3,711 1291.6,709.5 1291.8,708.5 1292.1,705.2 1292.3,705.5 1292.6,703.2 1292.9,702 1293.2,700.8 1293.5,699.8 1293.9,697.2 1294.2,695.9 1294.5,696.1 1294.9,692.1 1295.3,692.4 1295.7,691 1296.2,687.6 1296.7,688.1 1297.2,687 1297.7,686.6 1298.3,683.2 1298.8,684.2 1299.4,681.2 1299.9,679.8 1300.5,679.9 1301.1,675.6 1301.6,676.4 1302.2,674.7 1302.7,672.2 1303.1,672.6 1303.6,669.7 1304,668.7 1304.4,667.6 1304.9,667 1305.3,663.9 1305.7,663.3 1306.1,661.8 1306.6,660.8 1307,660.2 1307.5,657.1 1307.9,657.2 1308.3,654.4 1308.8,653.1 1309.3,650.8 1309.7,649.8 1310.2,649.4 1310.5,647.2 1310.9,646.3 1311.2,643.7 1311.5,642.3 1311.9,640.8 1312.2,640.1 1312.6,638.8 1312.9,637.7 1313.3,634.2 1313.6,634.5 1314,633.4 1314.3,630.9 1314.7,628.1 1315,627.2 1315.4,624.9 1315.8,623.8 1316.1,624.3 1316.5,622 1316.8,620.6 1317.2,619.6 1317.6,618.5 1317.9,616.3 1318.3,615 1318.6,613.8 1319,612.8 1319.5,610.8 1320,609.3 1320.6,606.2 1321.1,606 1321.6,603.7 1322.2,603.2 1322.7,599.5 1323.2,598.3 1323.8,596.4 1324.3,597.5 1324.8,596.6 1325.3,594.5 1325.9,592.3 1326.4,592.7 1326.9,591.5 1327.5,589.6 1328,587.5 1329.1,585.8 1330.3,584.8 1331.5,583.2 1332.7,582.6 1333.8,582.6 1335,582.9 1336,578.7 1337,579.8 1338.2,576.5 1339.3,575.6 1340.3,577.2 1341.2,575.2 1342.1,575.6 1343,572.8 1344.2,569.6 1345.4,569.5 1346.4,569.1 1347.4,569.9 1348.5,570.8 1349.4,570.6 1350.5,572.7 1351,572.5 1351.5,575.4 1352,574.9 1352.6,575.9 1353.2,576.8 1353.9,578.5 1354.8,583 1355.2,582.1 1355.7,586.2 1356.2,584.4 1356.7,588.4 1357.2,587.2 1357.8,588.3 1358.4,592.1 1359,592 1359.6,595.2 1360.2,594.9 1360.8,596 1361.3,600 1361.9,601.3 1362.4,603.2 1362.9,604.3 1363.4,603.6 1363.8,606.7 1364.3,608.5 1364.7,609.2 1365.1,612.1 1365.5,611.5 1365.8,614.9 1366.1,615.6 1366.4,615.2 1366.7,616.6 1367,619.5 1367.2,621.3 1367.5,621.3 1367.7,623.3 1368,625.7 1368.2,626.5 1368.4,628.8 1368.5,629.4 1368.7,629.9 1368.8,631.4 1368.9,632.8 1369,633.7 1369.1,635 1369.2,635.6 1369.3,637.3 1369.4,638.2 1369.5,639.6 1369.6,641 1369.7,642.5 1369.8,644.1 1369.9,646 1370,648 1370.1,650.1 1370.2,652.4 1370.3,654.9 1370.3,655.9 1370.4,657.2 1370.4,658.2 1370.5,659.3 1370.5,660.4 1370.6,661.6 1370.6,662.9 1370.7,664.1 1370.7,665.3 1370.8,666.5 1370.8,667.8 1370.9,669.2 1370.9,670.5 1370.9,671.9 1371,673.2 1371,674.7 1371.1,676.1 1371.1,677.5 1371.2,678.9 1371.2,680.4 1371.3,681.9 1371.3,683.4 1371.4,685 1371.4,686.5 1371.5,687.9 1371.5,689.6 1371.6,691.2 1371.6,692.7 1371.7,694.3 1371.7,695.8 1371.8,697.5 1371.8,699.1 1371.9,700.7 1371.9,702.3 1372,703.8 1372,705.4 1372.1,707.1 1372.1,708.7 1372.1,710.3 1372.2,712 1372.2,713.6 1372.3,715.1 1372.3,716.8 1372.4,718.4 1372.4,719.9 1372.5,721.5 1372.5,723.1 1372.6,724.7 1372.6,726.2 1372.7,727.8 1372.7,729.3 1372.7,730.7 1372.8,732.2 1372.8,733.6 1372.9,735.1 1372.9,736.7 1372.9,738.2 1373,739.7 1373,741.3 1373.1,742.9 1373.1,744.5 1373.2,746.1 1373.2,747.8 1373.3,749.5 1373.3,751.1 1373.3,752.8 1373.4,754.5 1373.4,756.2 1373.5,757.9 1373.5,759.6 1373.6,761.4 1373.6,763 1373.6,764.7 1373.7,766.5 1373.7,768.2 1373.8,769.8 1373.8,771.6 1373.9,773.2 1373.9,774.9 1373.9,776.5 1374,778.2 1374,779.9 1374.1,781.5 1374.1,783 1374.1,784.6 1374.2,786.1 1374.2,787.7 1374.3,789.2 1374.3,790.7 1374.3,792.1 1374.4,793.6 1374.4,795 1374.4,796.3 1374.5,797.6 1374.5,798.9 1374.5,800.2 1374.6,801.4 1374.6,802.6 1374.6,803.7 1374.6,804.9 1374.7,805.9 1374.7,806.9 1374.7,807.9 1374.7,808.7 1374.8,809.6 1374.8,810.4 1374.8,810.8 1374.8,811.9 1374.8,810.4 1374.8,809.7 1374.8,809 1374.9,808.3 1374.9,807.5 1374.9,806.7 1374.9,805.9 1374.9,805.1 1375,804.4 1375,803.6 1375,802.7 1375,801.8 1375,801 1375.1,800.1 1375.1,799.3 1375.1,798.4 1375.1,797.5 1375.2,796.5 1375.2,795.7 1375.2,794.7 1375.2,793.8 1375.3,792.8 1375.3,791.7 1375.3,790.7 1375.4,789.8 1375.4,788.7 1375.4,787.6 1375.4,786.5 1375.5,785.4 1375.5,784.3 1375.5,783.1 1375.6,781.9 1375.6,780.7 1375.6,779.5 1375.7,778.3 1375.7,777 1375.7,775.7 1375.8,774.4 1375.8,773.1 1375.8,771.6 1375.9,770.3 1375.9,768.8 1375.9,767.3 1376,765.9 1376,764.4 1376,762.9 1376.1,761.3 1376.1,759.7 1376.1,758 1376.2,756.3 1376.2,754.6 1376.2,752.9 1376.3,751.2 1376.3,749.3 1376.3,747.5 1376.4,745.6 1376.4,743.7 1376.4,741.8 1376.5,739.8 1376.5,737.8 1376.5,735.7 1376.6,733.6 1376.6,731.5 1376.6,729.3 1376.7,727.1 1376.7,724.9 1376.7,722.6 1376.8,720.2 1376.8,717.9 1376.8,715.4 1376.8,713 1376.9,710.5 1376.9,707.9 1376.9,705.3 1377,702.7 1377,700 1377,699 1377,698 1377,696.9 1377,695.9 1377.1,694.8 1377.1,693.7 1377.1,692.7 1377.1,691.5 1377.1,690.4 1377.1,689.3 1377.1,688.1 1377.1,687 1377.1,685.8 1377.2,684.6 1377.2,683.4 1377.2,682.2 1377.2,680.9 1377.2,679.7 1377.2,678.4 1377.2,677.2 1377.2,675.9 1377.3,674.6 1377.3,673.3 1377.3,671.9 1377.3,670.6 1377.3,669.3 1377.3,667.9 1377.3,666.5 1377.3,665.2 1377.3,663.8 1377.4,662.4 1377.4,661 1377.4,659.5 1377.4,658.1 1377.4,656.7 1377.4,655.2 1377.4,653.7 1377.4,652.3 1377.5,650.8 1377.5,649.3 1377.5,647.8 1377.5,646.3 1377.5,644.8 1377.5,643.2 1377.5,641.7 1377.5,640.2 1377.6,638.6 1377.6,637 1377.6,635.5 1377.6,633.9 1377.6,632.3 1377.6,630.7 1377.6,629.1 1377.7,627.5 1377.7,625.9 1377.7,624.3 1377.7,622.7 1377.7,621 1377.7,619.4 1377.7,617.7 1377.7,616.1 1377.8,614.4 1377.8,612.8 1377.8,611.1 1377.8,609.4 1377.8,607.8 1377.8,606.1 1377.8,604.4 1377.8,602.7 1377.9,601 1377.9,599.3 1377.9,597.6 1377.9,595.9 1377.9,594.2 1377.9,592.5 1377.9,590.7 1377.9,589 1378,587.3 1378,585.6 1378,583.8 1378,582.1 1378,580.4 1378,578.6 1378,576.9 1378.1,575.1 1378.1,573.4 1378.1,571.6 1378.1,569.9 1378.1,568.1 1378.1,566.4 1378.1,564.7 1378.1,562.9 1378.2,561.1 1378.2,559.4 1378.2,557.6 1378.2,555.9 1378.2,554.1 1378.2,552.4 1378.2,550.6 1378.2,548.9 1378.3,547.1 1378.3,545.4 1378.3,543.6 1378.3,541.9 1378.3,540.1 1378.3,538.4 1378.3,536.6 1378.3,534.9 1378.4,533.2 1378.4,531.4 1378.4,529.7 1378.4,528 1378.4,526.2 1378.4,524.5 1378.4,522.8 1378.4,521.1 1378.5,519.3 1378.5,517.6 1378.5,515.9 1378.5,514.2 1378.5,512.5 1378.5,510.8 1378.5,509.1 1378.5,507.4 1378.6,505.7 1378.6,504.1 1378.6,502.4 1378.6,500.7 1378.6,499.1 1378.6,497.4 1378.6,495.7 1378.6,494.1 1378.6,492.5 1378.7,490.8 1378.7,489.2 1378.7,487.6 1378.7,486 1378.7,484.4 1378.7,482.7 1378.7,481.2 1378.7,479.6 1378.7,478 1378.8,476.4 1378.8,474.9 1378.8,473.3 1378.8,471.7 1378.8,470.2 1378.8,468.7 1378.8,467.2 1378.8,465.6 1378.8,464.1 1378.9,462.6 1378.9,461.2 1378.9,459.7 1378.9,458.2 1378.9,456.8 1378.9,455.3 1378.9,453.9 1378.9,452.5 1378.9,451 1378.9,449.6 1379,448.2 1379,446.9 1379,445.5 1379,444.1 1379,442.8 1379,441.4 1379,440.1 1379,438.8 1379,437.5 1379,436.2 1379,434.9 1379.1,433.7 1379.1,432.4 1379.1,431.2 1379.1,430 1379.1,428.7 1379.1,427.5 1379.1,426.4 1379.1,425.2 1379.1,424 1379.1,422.9 1379.1,421.8 1379.1,420.6 1379.2,419.5 1379.2,418.5 1379.2,417.4 1379.2,416.3 1379.2,415.3 1379.2,414.3 1379.2,413.3 1379.2,412.3 1379.2,411.3 1379.2,410.3 1379.2,409.4 1379.2,408.5 1379.2,407.6 1379.2,406.7 1379.3,405.8 1379.3,404.9 1379.3,404.1 1379.3,403.3 1379.3,402.4 1379.3,401.7 1379.3,400.9 1379.3,400.1 1379.3,399.2 1379.3,399.5 1379.3,400.1 1379.4,401.1 1379.4,402.2 1379.4,403.2 1379.5,404.5 1379.5,405.8 1379.6,407.2 1379.6,408.7 1379.7,410.1 1379.7,411.8 1379.8,413.3 1379.8,415 1379.9,416.8 1379.9,418.4 1380,420.1 1380.1,421.9 1380.1,423.6 1380.2,425.4 1380.2,427 1380.3,428.7 1380.3,430.5 1380.4,432 1380.4,433.3 1380.5,434.7 1380.5,436 1380.6,437.3 1380.6,438.6 1380.6,439.9 1380.7,441.1 1380.7,442.3 1380.7,443.6 1380.8,444.8 1380.8,446.1 1380.9,447.4 1380.9,448.7 1380.9,450.1 1381,451.5 1381,452.9 1381.1,454.5 1381.1,456 1381.2,457.7 1381.2,459.4 1381.3,461.2 1381.4,463.2 1381.4,465.1 1381.5,467.1 1381.6,469.4 1381.6,470.5 1381.7,471.6 1381.7,472.8 1381.8,474.1 1381.8,475.4 1381.9,476.8 1381.9,478.1 1382,479.5 1382,481 1382.1,482.4 1382.2,483.9 1382.2,485.6 1382.3,487.2 1382.3,488.7 1382.4,490.3 1382.5,491.9 1382.5,493.5 1382.6,495.2 1382.7,496.9 1382.7,498.6 1382.8,500.2 1382.9,502.1 1382.9,503.6 1383,505.5 1383.1,507.2 1383.1,508.9 1383.2,510.4 1383.3,512.1 1383.3,513.9 1383.4,515.4 1383.5,517 1383.5,518.8 1383.6,520.4 1383.7,522.1 1383.7,523.6 1383.8,525.1 1383.8,526.7 1383.9,528.1 1384,529.5 1384,531 1384.1,532.3 1384.1,533.7 1384.2,535 1384.3,536.2 1384.3,537.6 1384.4,538.7 1384.4,539.8 1384.5,540.7 1384.5,541.8 1384.6,542.8 1384.6,543.7 1384.8,548 1385,551.2 1385.2,553.4 1385.3,554.4 1385.5,555.2 1385.6,556.1 1385.7,557.3 1385.8,556.6 1386,558.1 1386.2,560.5 1386.5,561.1 1386.7,563 1387,566 1387.3,567.2 1387.6,567.6 1388.2,568.1 1389,572.4 1389.7,573 1390.5,574.7 1391.6,577.3 1393.5,578 1394.6,576.5 1395.7,575.6 1397.1,576.3 1398.6,577.2 1400.4,577.2 1402.5,575.8 1403.7,575.6 1405,577.2 1406.3,576.8 1407.8,575.5 1409.3,577.7 1410.8,576 1412.4,573.3 1414,574.4 1415.6,575.6 1417.2,573.4 1418.8,574.7 1420.3,571.8 1421.9,572.9 1423.5,575 1425.3,574 1427,574.3 1428.8,572.4 1430.6,573.7 1432.2,574 1433.8,572.9 1435.3,574.5 1436.6,574.1 1437.7,576 1438.6,574.3" fill="none" stroke="#555555" stroke-width="1.6" stroke-linejoin="round"/>
<path d="M1080.3 603.6L1081.1 602.9L1082.2 604.9L1083.5 602.5L1084.9 604.4L1086.4 603.6L1088.1 602.4L1089.8 604.1L1091.5 602.2L1093.2 603.7L1094.9 602.1L1096.3 602L1097.9 603.2L1099.5 604.6L1101.2 601.6L1103 601.8L1104.7 603.1L1106.5 604.2L1108.1 602.5L1109.7 601.6L1111.2 603.8L1112.7 600L1114 603.3L1116.5 601.3L1117.9 601.3L1118.9 602.1L1120.1 604.1L1121.2 607.1L1122.3 605.7L1123.3 608.5L1124.3 610.2L1125.2 610.9L1125.7 612.8L1126.2 612.6L1126.6 614.1L1127.1 616.2L1127.5 619.2L1127.9 620L1128.4 621.1L1128.8 623.3L1129.1 624.1L1129.4 624.8L1129.6 627.4L1129.9 628.6L1130.1 629.8L1130.3 633.1L1130.3 634L1129.9 634.1L1129.7 633.2L1129.3 629.9L1128.8 628.8L1128.4 627.6L1127.9 625.2L1127.5 624.6L1127 623.9L1126.6 621.7L1126.2 620.5L1125.7 619.8L1125.2 616.8L1124.7 614.9L1124.1 613.5L1123.5 613.9L1122.8 612.2L1121.9 611.8L1120.9 610.4L1119.9 607.7L1118.9 609.2L1117.9 606.4L1117.2 604.9L1116.5 604.4L1115.5 604.5L1113.4 606.6L1112.5 603.4L1111.4 607.2L1110 605L1108.5 605.9L1106.9 607.6L1105.1 606.5L1103.4 605.1L1101.6 605L1099.9 608L1098.2 606.6L1096.6 605.4L1095.1 605.5L1093.4 607L1091.7 605.6L1089.9 607.5L1088.2 605.8L1086.5 607L1085 607.8L1083.5 605.9L1082.3 608.3L1081.2 606.3L1080.3 607ZM1146.6 582.7L1147 585.7L1147.3 586.8L1147.6 589.3L1148 590L1148.4 591.8L1148.8 592.4L1149.2 592.7L1149.5 593.6L1149.9 594.8L1150.5 598.9L1151.1 599.1L1151.8 599.3L1152.5 602.9L1153.5 604.1L1154.5 602.7L1155.7 602.3L1157 603.2L1158.4 603.3L1159.7 604.4L1160.8 603.1L1161.3 603.3L1162 602.7L1162.8 603.1L1163.6 603.1L1164.5 601.3L1165.4 598.6L1166.3 597.1L1167.2 596.1L1168.2 594.2L1169.1 592.8L1170.1 590.5L1171.2 590L1172.3 591.4L1173.4 586.8L1174.6 587L1175.7 586.3L1176.8 586.1L1178 582.5L1179.2 581.9L1180.6 581.2L1182.6 581.7L1184.3 582.6L1185.6 585.9L1186.8 587.2L1187.8 589.1L1188.3 587.2L1188.7 588.6L1189 592.3L1189.4 594.3L1189.7 594.5L1190.1 596.4L1190.5 596.3L1190.8 599L1191.2 602L1191.6 603.1L1191.9 604.7L1192.2 606.5L1192.5 606.2L1192.9 607.4L1193.3 609L1193.7 611.4L1194.1 613.2L1194.6 615.2L1195.1 615.5L1196.1 617.2L1197.1 619L1198.1 618.8L1199.1 620.1L1200.2 619L1201.2 622.8L1202.2 621.1L1203 624.1L1203.8 622.8L1204.8 620.8L1205.9 619.3L1206.9 618.8L1207.8 619.8L1208.6 619.5L1209.5 616L1210.8 613L1211.3 613.9L1211.7 613.2L1212.2 611.5L1212.6 609.7L1213 609.7L1213.5 606.5L1214 606L1214.5 605.1L1215 605.2L1215.5 602.7L1216 601.9L1216.5 599L1217 596.7L1217.5 595.1L1218 595.8L1218.5 593.4L1219 590.6L1219.5 588.1L1220 588.1L1220.4 587.3L1220.9 585.1L1221.3 583.3L1221.7 583.1L1222.2 582.5L1222.6 578.9L1223.1 576.9L1223.5 576.4L1223.9 575.2L1224.4 574.5L1224.8 571.6L1225.2 572L1225.7 570.3L1226.1 568.2L1226.5 565.8L1227 566.7L1227.4 563.3L1227.8 563.4L1228.2 560.3L1228.6 558.9L1229 559.1L1229.4 556.3L1229.8 556.7L1230.3 553.9L1230.7 551.5L1231.1 550.2L1231.5 549.3L1231.9 548.5L1232.3 547.9L1232.6 544.1L1233 543.4L1233.4 541.5L1233.8 542.3L1234.1 538.5L1234.5 536.8L1234.9 535.5L1235.2 535.1L1235.6 535.3L1235.9 534L1236.3 532.2L1236.7 531.5L1237.2 529.9L1237.7 526.5L1238.2 524.6L1238.7 525.9L1239.3 524L1239.8 520.3L1240.3 521.3L1240.9 519.1L1241.4 517.8L1242 516.4L1242.5 514.5L1243 512.6L1243.5 511.9L1244 510.4L1244.3 510.8L1244.6 507.5L1244.9 508.3L1245.2 505.3L1245.5 504.4L1245.7 504.1L1246 502.7L1246.2 500.6L1246.5 498.6L1246.7 498L1246.9 496.4L1247.1 495.8L1247.4 493.2L1247.6 491.9L1247.8 491.1L1248 488.4L1248.4 488.4L1248.2 491.1L1248.1 492L1247.9 493.3L1247.7 495.9L1247.6 496.5L1247.4 498.1L1247.2 498.7L1247 500.8L1246.8 502.9L1246.6 504.2L1246.4 504.5L1246.2 505.5L1246 508.5L1245.8 507.7L1245.6 511.1L1245.4 510.8L1245 512.3L1244.7 513.1L1244.3 515.1L1243.9 517L1243.4 518.5L1242.9 519.9L1242.4 522.1L1241.9 521.2L1241.4 524.9L1240.9 526.8L1240.3 525.5L1239.8 527.3L1239.2 530.6L1238.7 532.2L1238.1 532.8L1237.7 534.5L1237.3 535.8L1236.9 535.6L1236.5 535.9L1236.1 537.2L1235.7 538.9L1235.3 542.7L1234.9 541.9L1234.5 543.8L1234.2 544.5L1233.8 548.3L1233.4 548.9L1233 549.7L1232.6 550.6L1232.2 552L1231.8 554.3L1231.4 557.2L1231 556.7L1230.6 559.6L1230.2 559.4L1229.8 560.8L1229.4 563.9L1229 563.8L1228.6 567.2L1228.2 566.3L1227.8 568.7L1227.4 570.8L1226.9 572.5L1226.5 572.1L1226.1 575L1225.6 575.7L1225.2 576.9L1224.8 577.4L1224.3 579.4L1223.9 583L1223.5 583.7L1223.1 583.8L1222.6 585.7L1222.2 587.9L1221.8 588.7L1221.3 588.7L1220.8 591.1L1220.3 593.9L1219.8 596.3L1219.3 595.7L1218.8 597.3L1218.3 599.6L1217.8 602.5L1217.3 603.3L1216.8 605.8L1216.3 605.7L1215.9 606.7L1215.4 607.1L1214.9 610.4L1214.5 610.4L1214.1 612.2L1213.8 614L1213.4 614.9L1213.2 614.2L1211.9 617.5L1210.9 621.2L1210.1 621.7L1209.1 621.2L1207.7 622L1206.3 623.8L1204.7 626L1203 627.5L1201.3 624.4L1199.7 625.7L1198.2 621.6L1196.9 622.3L1195.7 620.7L1194.7 620.6L1193.8 618.5L1192.9 616.5L1192.6 616L1192.4 613.7L1192.2 611.8L1191.9 609.3L1191.6 607.7L1191.3 606.5L1190.9 606.8L1190.5 605L1190.2 603.5L1189.8 602.4L1189.4 599.4L1188.9 596.7L1188.5 596.8L1188.1 595L1187.6 594.8L1187.1 592.9L1186.6 589.5L1186 588.3L1185.4 590.5L1184.4 589L1183.6 588.3L1182.6 585.4L1181.8 585L1180.8 584.6L1180.5 585L1179.8 585.2L1178.9 588.5L1177.9 588.5L1176.8 589.2L1175.7 588.9L1174.6 593.4L1173.5 592L1172.5 592.4L1171.5 594.6L1170.5 595.9L1169.6 597.8L1168.7 598.7L1167.8 600.2L1166.9 602.9L1166 604.8L1165.1 605L1164.2 605L1163 606.1L1161.8 606.3L1159.8 607.8L1157.8 606.6L1156 606.4L1154.2 605.2L1152.6 605.3L1151.3 606.3L1150.2 604.7L1149.4 600.6L1148.9 600.1L1148.6 599.6L1148.1 595.4L1147.8 594.1L1147.6 593.1L1147.3 592.8L1147.1 592.1L1147 590.2L1146.8 589.4L1146.6 586.9L1146.4 585.8L1146.2 582.7ZM1260.1 263.5L1259.6 261.8L1261.6 259.7L1261.2 261.5L1261 263.6L1261.1 264.3L1261.3 265.5L1261.4 264.6L1261.4 266.4L1261.5 266.9L1261.6 268.2L1261.2 268.3L1261 267L1260.8 266.5L1260.6 264.7L1260.5 265.6L1260.4 264.5L1260.3 263.7L1259.9 261.8L1259.4 262L1261.4 262.4L1260.8 263.6ZM1278 905.5L1278.3 906.1L1278.8 906.3L1278.3 903.7L1277.1 905.8L1277.7 905.8L1278.1 905.4L1278.5 905.4L1278.7 906L1279.1 906.5L1277.7 907.1L1277 906.9L1277.4 906.3L1277.5 905.6ZM1289.5 723.7L1289.6 722L1289.7 720.6L1289.9 719.1L1290 718.3L1290.2 716.3L1290.3 715.6L1290.5 713.8L1290.7 712.6L1290.9 711L1291.1 709.4L1291.4 708.5L1291.6 705.2L1291.9 705.4L1292.1 703.1L1292.4 701.9L1292.6 700.7L1292.9 699.7L1293.2 697.1L1293.5 695.8L1293.8 695.9L1294.1 691.9L1294.5 692.2L1294.8 690.7L1295.3 687.3L1295.7 687.8L1296.2 686.6L1296.7 686.2L1297.2 682.8L1297.7 683.7L1298.3 680.8L1298.9 679.4L1299.4 679.5L1300 675.2L1300.6 676.1L1301.2 674.3L1301.7 671.8L1302.2 672.3L1302.6 669.4L1303.1 668.4L1303.5 667.3L1304 666.7L1304.4 663.6L1304.8 663L1305.3 661.6L1305.7 660.6L1306.2 660L1306.6 656.9L1307.1 657L1307.5 654.2L1308 652.9L1308.5 650.6L1308.9 649.6L1309.4 649.2L1309.8 647L1310.1 646.1L1310.5 643.5L1310.8 642.1L1311.2 640.7L1311.5 640L1311.9 638.6L1312.3 637.5L1312.6 634.1L1313 634.3L1313.3 633.2L1313.7 630.8L1314 627.9L1314.4 627L1314.7 624.7L1315.1 623.7L1315.4 624.1L1315.8 621.8L1316.1 620.5L1316.5 619.4L1316.8 618.3L1317.2 616.1L1317.5 614.8L1317.8 613.6L1318.2 612.5L1318.7 610.5L1319.2 609L1319.7 605.9L1320.2 605.7L1320.7 603.4L1321.2 602.8L1321.7 599.1L1322.2 597.9L1322.7 596L1323.2 597.1L1323.8 596.2L1324.3 594L1324.8 591.8L1325.3 592.2L1325.8 590.9L1326.3 588.9L1326.8 586.7L1328 584.9L1329.2 583.8L1330.4 582.1L1331.6 581.4L1332.8 581.3L1333.9 581.7L1335 577.4L1335.9 578.6L1337.1 575.4L1338.2 574.5L1339.1 576.1L1340.1 574.2L1341 574.6L1341.8 571.8L1343.1 568.5L1344.4 568.2L1345.9 567.5L1347.8 568.3L1349.4 569.5L1350.6 569.7L1351.7 572L1352.2 572L1352.6 574.9L1353.1 574.4L1353.7 575.4L1354.3 576.4L1355 578.1L1355.9 582.6L1356.3 581.7L1356.7 585.7L1357.2 584L1357.7 587.9L1358.3 586.8L1358.9 587.8L1359.4 591.7L1360 591.6L1360.6 594.8L1361.2 594.5L1361.8 595.6L1362.3 599.6L1362.9 600.9L1363.4 602.9L1363.8 604L1364.3 603.4L1364.7 606.4L1365.1 608.2L1365.5 609L1365.9 611.9L1366.2 611.4L1366.5 614.7L1366.8 615.4L1367 615.1L1367.3 616.5L1367.5 619.4L1367.7 621.2L1367.9 621.3L1368.1 623.3L1368.3 625.6L1368.5 626.4L1368.7 628.8L1368.8 629.4L1368.9 629.9L1369 631.4L1369.1 632.7L1368.7 632.8L1368.5 631.5L1368.4 629.9L1368.2 629.4L1368.1 628.8L1367.9 626.5L1367.6 625.8L1367.4 623.4L1367.1 621.4L1366.8 621.4L1366.5 619.6L1366.2 616.8L1365.8 615.3L1365.5 615.7L1365.1 615L1364.7 611.7L1364.3 612.3L1363.9 609.5L1363.4 608.7L1362.9 607L1362.5 603.9L1362 604.6L1361.5 603.6L1360.9 601.6L1360.4 600.3L1359.8 596.4L1359.2 595.3L1358.6 595.6L1358 592.4L1357.4 592.5L1356.8 588.7L1356.2 587.6L1355.6 588.8L1355.1 584.8L1354.6 586.6L1354.2 582.6L1353.7 583.5L1352.9 579L1352.1 577.3L1351.5 576.4L1350.9 575.5L1350.4 576L1349.9 573.1L1349.3 573.4L1348.3 571.6L1347.5 572.1L1347 571.6L1347 570.6L1346.4 570.7L1345.4 570.6L1344.2 573.8L1343.3 576.6L1342.4 576.3L1341.4 578.2L1340.4 576.7L1339.3 577.6L1338.1 580.9L1337.1 579.9L1336 584.1L1334.9 583.8L1333.8 583.8L1332.6 584.2L1331.5 585.8L1330.3 586.7L1329.2 588.3L1328.7 590.3L1328.1 592.1L1327.5 593.2L1327 592.8L1326.4 594.9L1325.9 597.1L1325.3 597.9L1324.8 596.7L1324.2 598.6L1323.7 599.8L1323.1 603.5L1322.6 604L1322 606.3L1321.5 606.5L1320.9 609.6L1320.4 611L1319.8 613L1319.5 614L1319.1 615.3L1318.7 616.5L1318.3 618.7L1317.9 619.8L1317.6 620.8L1317.2 622.1L1316.8 624.5L1316.4 624L1316.1 625L1315.7 627.4L1315.3 628.2L1315 631.1L1314.6 633.5L1314.3 634.6L1313.9 634.4L1313.6 637.9L1313.2 639L1312.9 640.3L1312.6 641L1312.2 642.4L1311.9 643.9L1311.6 646.5L1311.3 647.4L1311 649.6L1310.5 650L1310.1 651L1309.6 653.3L1309.2 654.6L1308.7 657.5L1308.3 657.4L1307.9 660.5L1307.4 661.1L1307 662.1L1306.6 663.5L1306.2 664.2L1305.8 667.3L1305.3 667.9L1304.9 669L1304.5 670L1304.1 672.9L1303.7 672.5L1303.2 675L1302.6 676.8L1302.1 676L1301.5 680.3L1301 680.3L1300.4 681.7L1299.9 684.6L1299.3 683.6L1298.8 687L1298.2 687.4L1297.7 688.5L1297.1 687.9L1296.6 691.3L1296.1 692.7L1295.7 692.4L1295.3 696.3L1294.9 696.1L1294.5 697.4L1294.2 700L1293.8 700.9L1293.5 702.1L1293.2 703.3L1292.8 705.6L1292.5 705.3L1292.2 708.6L1292 709.5L1291.7 711.1L1291.4 712.7L1291.1 713.8L1290.9 715.7L1290.7 716.4L1290.5 718.3L1290.4 719.2L1290.2 720.7L1290 722.1L1289.9 723.8ZM1385.5 554.4L1385.8 555.1L1386 556L1386.1 557.2L1386.2 556.6L1386.4 558L1386.6 560.4L1386.8 561L1387.1 562.9L1387.5 565.9L1388 567L1388.5 567.3L1389.3 567.6L1390.1 571.8L1390.9 572.2L1391.7 573.7L1392.7 576.1L1394.4 576.7L1395.2 574.9L1396.1 574L1397.2 574.6L1398.6 575.5L1400.4 575.5L1402.4 574.1L1403.5 573.9L1404.7 575.5L1406 575.1L1407.4 573.8L1408.9 576.1L1410.5 574.3L1412.1 571.6L1413.7 572.7L1415.3 573.9L1417 571.7L1418.6 573L1420.2 570.1L1421.8 571.2L1423.5 573.3L1425.3 572.3L1427.1 572.6L1428.8 570.7L1430.6 572L1432.3 572.3L1433.9 571.2L1435.4 572.8L1436.7 572.4L1437.8 574.3L1438.7 572.6L1438.5 576L1437.7 577.7L1436.5 575.8L1435.2 576.2L1433.8 574.6L1432.2 575.7L1430.5 575.4L1428.8 574.1L1427 576L1425.3 575.7L1423.6 576.7L1422 574.6L1420.4 573.5L1419 576.4L1417.4 575.1L1415.9 577.3L1414.3 576.1L1412.7 574.9L1411.2 577.6L1409.6 579.4L1408.1 577.2L1406.6 578.5L1405.2 578.8L1403.9 577.3L1402.6 577.4L1400.5 578.9L1398.6 578.9L1397 578L1395.4 577.3L1393.9 578L1392.6 579.4L1390.6 578.4L1389.3 575.7L1388.5 573.8L1387.8 572.9L1387.2 568.5L1386.7 568L1386.5 567.4L1386.4 566.1L1386.3 563L1386.1 561.1L1385.9 560.5L1385.6 558.1L1385.4 556.7L1385.3 557.4L1385.1 556.1L1385.1 555.2L1385.1 554.4Z" fill="#161616" stroke="none"/>
<polyline points="1080.3,367.8 1081.2,368.2 1082.2,369.6 1083.5,367.8 1084.9,367.9 1086.5,368.2 1088.1,366.5 1089.8,367.7 1091.6,368.2 1093.3,368.7 1095,365.9 1096.5,366.6 1098,365.7 1099.7,368.5 1101.4,367.9 1103.2,365.2 1104.9,368.9 1106.7,368.7 1108.3,367.4 1109.9,367.1 1111.3,365.3 1112.6,364.7 1113.7,366.7 1116.5,365.1 1117.8,366.1 1119,367 1120.5,367.1 1121.8,370 1123,371.3 1123.8,373.9 1124.6,374 1125.3,375.8 1126,377 1126.5,378.7 1126.9,379 1127.3,379.7 1127.8,383.2 1128.2,384.9 1128.6,386.8 1128.8,387.5 1128.9,387.7 1129.1,388.6 1129.2,389.8 1129.4,390.5 1129.5,392.7 1129.7,393.4 1129.8,395.3 1130,396.1 1130.1,398.2 1130.3,399.7 1130.4,400.8 1130.6,402.9 1130.7,405.4 1130.9,407.5 1131,410.2 1131.1,411 1131.1,412 1131.2,413.4 1131.2,414.6 1131.3,415.7 1131.3,417 1131.4,418.3 1131.4,419.8 1131.5,421.1 1131.5,422.4 1131.6,423.9 1131.6,425.4 1131.7,426.8 1131.7,428.5 1131.8,429.9 1131.8,431.5 1131.9,433.1 1131.9,434.6 1132,436.3 1132,437.8 1132.1,439.5 1132.1,441.1 1132.2,442.8 1132.2,444.4 1132.3,446 1132.3,447.7 1132.4,449.3 1132.4,450.9 1132.5,452.6 1132.5,454.1 1132.6,455.7 1132.6,457.4 1132.7,458.9 1132.7,460.4 1132.8,462 1132.8,463.5 1132.9,465 1132.9,466.5 1133,467.9 1133,469.3 1133.1,470.8 1133.1,472.4 1133.2,474.1 1133.2,475.7 1133.3,477.4 1133.3,479 1133.4,480.7 1133.4,482.4 1133.5,484.1 1133.5,485.8 1133.6,487.5 1133.6,489.1 1133.7,490.8 1133.7,492.6 1133.8,494.2 1133.8,495.8 1133.9,497.4 1133.9,499.1 1134,500.8 1134,502.2 1134.1,503.9 1134.1,505.4 1134.2,506.8 1134.2,508.2 1134.2,509.6 1134.3,510.9 1134.3,512.3 1134.4,513.5 1134.4,514.8 1134.4,515.9 1134.5,517 1134.5,518 1134.5,519 1134.6,519.9 1134.6,520.8 1134.6,521.1 1134.6,521.2 1134.6,520.8 1134.6,520 1134.6,519.2 1134.6,518.4 1134.7,517.5 1134.7,516.7 1134.7,515.8 1134.7,514.9 1134.7,513.9 1134.7,513 1134.7,512 1134.7,511 1134.8,510 1134.8,508.9 1134.8,507.8 1134.8,506.8 1134.8,505.7 1134.8,504.5 1134.9,503.4 1134.9,502.2 1134.9,501 1134.9,499.8 1134.9,498.6 1134.9,497.3 1135,496.1 1135,494.8 1135,493.5 1135,492.1 1135,490.8 1135,489.5 1135.1,488.1 1135.1,486.7 1135.1,485.3 1135.1,483.9 1135.1,482.4 1135.2,481 1135.2,479.5 1135.2,478 1135.2,476.5 1135.2,475 1135.3,473.5 1135.3,471.9 1135.3,470.4 1135.3,468.8 1135.4,467.2 1135.4,465.6 1135.4,464 1135.4,462.4 1135.4,460.8 1135.5,459.1 1135.5,457.5 1135.5,455.8 1135.5,454.1 1135.6,452.4 1135.6,450.8 1135.6,449 1135.6,447.3 1135.6,445.6 1135.7,443.8 1135.7,442.1 1135.7,440.3 1135.7,438.6 1135.8,436.8 1135.8,435 1135.8,433.2 1135.8,431.4 1135.8,429.6 1135.9,427.8 1135.9,426 1135.9,424.2 1135.9,422.3 1136,420.5 1136,418.7 1136,416.8 1136,415 1136,413.1 1136.1,411.2 1136.1,409.4 1136.1,407.5 1136.1,405.6 1136.2,403.8 1136.2,401.9 1136.2,400 1136.2,398.8 1136.2,397.6 1136.2,396.3 1136.3,395.1 1136.3,393.8 1136.3,392.5 1136.3,391.2 1136.3,389.9 1136.3,388.5 1136.3,387.1 1136.4,385.8 1136.4,384.4 1136.4,383 1136.4,381.6 1136.4,380.1 1136.4,378.7 1136.4,377.2 1136.5,375.7 1136.5,374.2 1136.5,372.7 1136.5,371.2 1136.5,369.7 1136.5,368.1 1136.6,366.6 1136.6,365 1136.6,363.5 1136.6,361.9 1136.6,360.3 1136.6,358.7 1136.7,357.1 1136.7,355.4 1136.7,353.8 1136.7,352.2 1136.7,350.5 1136.7,348.9 1136.8,347.2 1136.8,345.6 1136.8,343.9 1136.8,342.2 1136.8,340.5 1136.8,338.8 1136.9,337.1 1136.9,335.4 1136.9,333.8 1136.9,332 1136.9,330.3 1136.9,328.6 1137,326.9 1137,325.2 1137,323.5 1137,321.7 1137,320 1137,318.3 1137.1,316.6 1137.1,314.8 1137.1,313.1 1137.1,311.4 1137.1,309.6 1137.1,307.9 1137.2,306.2 1137.2,304.5 1137.2,302.8 1137.2,301 1137.2,299.3 1137.2,297.6 1137.3,295.9 1137.3,294.2 1137.3,292.5 1137.3,290.8 1137.3,289.1 1137.3,287.4 1137.4,285.7 1137.4,284.1 1137.4,282.4 1137.4,280.7 1137.4,279.1 1137.4,277.4 1137.5,275.8 1137.5,274.1 1137.5,272.5 1137.5,270.9 1137.5,269.3 1137.5,267.7 1137.5,266.1 1137.6,264.5 1137.6,263 1137.6,261.4 1137.6,259.9 1137.6,258.3 1137.6,256.8 1137.7,255.3 1137.7,253.8 1137.7,252.3 1137.7,250.8 1137.7,249.4 1137.7,247.9 1137.7,246.5 1137.7,245.1 1137.8,243.7 1137.8,242.3 1137.8,240.9 1137.8,239.5 1137.8,238.2 1137.8,236.9 1137.8,235.6 1137.9,234.3 1137.9,233 1137.9,231.8 1137.9,230.5 1137.9,229.3 1137.9,228.1 1137.9,226.9 1137.9,225.8 1137.9,224.6 1138,223.5 1138,222.4 1138,221.3 1138,220.3 1138,219.3 1138,218.2 1138,217.3 1138,216.3 1138,215.4 1138,214.4 1138.1,213.5 1138.1,212.7 1138.1,211.8 1138.1,211 1138.1,210.2 1138.1,209.4 1138.1,209.2 1138.1,209 1138.1,209.5 1138.1,210.4 1138.2,211.4 1138.2,212.6 1138.2,213.8 1138.3,215.2 1138.3,216.5 1138.4,218.1 1138.4,219.5 1138.5,221.1 1138.5,222.8 1138.6,224.4 1138.6,226.1 1138.7,227.9 1138.7,229.6 1138.8,231.4 1138.8,233.1 1138.9,234.9 1138.9,236.7 1139,238.3 1139,240 1139,241.3 1139.1,242.7 1139.1,244.1 1139.1,245.5 1139.2,246.8 1139.2,248.2 1139.3,249.6 1139.3,251.1 1139.3,252.5 1139.4,253.9 1139.4,255.4 1139.4,256.8 1139.5,258.3 1139.5,259.8 1139.6,261.3 1139.6,262.8 1139.6,264.3 1139.7,265.8 1139.7,267.3 1139.8,269 1139.8,270.5 1139.9,272.1 1139.9,273.7 1140,275.3 1140,277 1140.1,278.6 1140.2,279.9 1140.2,281.4 1140.3,282.8 1140.3,284.2 1140.4,285.7 1140.4,287.3 1140.5,288.9 1140.5,290.4 1140.6,292.1 1140.7,293.7 1140.7,295.3 1140.8,296.8 1140.8,298.5 1140.9,300.2 1141,301.8 1141,303.3 1141.1,304.9 1141.2,306.7 1141.2,308.1 1141.3,309.9 1141.4,311.4 1141.5,312.7 1141.5,314.2 1141.6,315.8 1141.7,317.1 1141.7,318.4 1141.8,320.1 1141.9,321.2 1142,322.7 1142,323.5 1142.1,324.8 1142.2,326.1 1142.4,328 1142.6,330.3 1142.7,332.7 1142.9,334.8 1143.1,336.7 1143.3,337.1 1143.5,339.1 1143.7,340.9 1143.9,341.7 1144.1,343.3 1144.3,343.4 1144.6,344.3 1144.8,345.4 1145,346.3 1145.4,349.7 1145.8,351.4 1146.3,353 1146.7,352.9 1147.2,354.1 1147.8,355.3 1148.5,358.8 1149.4,360.7 1150.5,361.8 1151.6,359.7 1152.8,360.6 1154.1,364.9 1155.4,363.3 1156.8,364.6 1158.2,362.6 1159.7,362.7 1161.3,362.2 1162.8,361.1 1164.3,360.9 1165.4,357.8 1166.5,359.7 1167.6,359.2 1168.7,355.6 1169.9,355.6 1171,355.7 1172.1,353.4 1173.2,351.8 1174.8,350.7 1176.4,351.1 1178.1,348.2 1179.6,350.9 1181,350.1 1182.2,349.4 1183.7,350.3 1184.6,350.6 1185.5,351.6 1186,353.5 1186.6,354.5 1187.1,357.6 1187.7,358.6 1188.3,358.3 1188.9,362.1 1189.6,362.9 1190.4,364.4 1191.3,365.9 1192.2,365.6 1193.2,368.6 1194.1,369.5 1195,369.8 1196.2,371.3 1197.3,372.4 1198.5,371.7 1200,373.3 1201.3,370.7 1202.7,371.6 1204.3,371.8 1205.9,369.5 1207.5,370 1209,369.9 1209.8,369.1 1210.6,366.7 1211.4,368.4 1212.1,366.2 1212.9,363.8 1213.7,363.8 1214.4,362.1 1215.3,360.6 1216.1,358.6 1217,359.4 1217.9,356.5 1218.6,355.7 1219.3,354.7 1220,354.4 1220.7,349.6 1221.5,350.5 1222.3,349.7 1223.1,346.6 1223.9,345.8 1224.6,343.2 1225.4,342.3 1226.2,341.6 1227,339.2 1227.7,338.4 1228.4,339.4 1229.1,336.7 1229.8,335.2 1230.4,335.5 1231.1,332.7 1231.7,332.8 1232.3,330.2 1232.9,329.4 1233.5,325.5 1234.1,325.9 1234.6,325 1235.2,321.2 1235.7,322.7 1236.3,318.7 1236.8,318.3 1237.3,315.9 1237.8,315.5 1238.2,314.3 1238.7,311.2 1239.1,312.4 1239.5,309.4 1239.9,308.3 1240.3,307 1240.6,304.9 1241,303.2 1241.3,302.7 1241.6,301 1241.9,298.8 1242.2,298.3 1242.5,295.8 1242.8,293.7 1243.1,292.7 1243.4,290.7 1243.7,289.4 1243.9,289.1 1244.2,286.8 1244.4,286.4 1244.7,284.6 1244.9,281.9 1245.1,282.1 1245.3,280.6 1245.5,277.6 1245.7,277.5 1245.9,275.3 1246.1,273.9 1246.3,273.1 1246.5,270.6 1246.7,269.5 1246.9,268.5 1247,266.7 1247.2,264.9 1247.4,264.1 1247.6,262.4 1247.7,260.6 1247.9,258.5 1248.1,257.7 1248.2,256 1248.4,254.3 1248.5,252.7 1248.7,251.9 1248.9,250 1249,249 1249.1,247.9 1249.3,246.2 1249.4,244.6 1249.6,243.5 1249.7,241.9 1249.8,240.8 1250,239 1250.1,237.9 1250.3,236.3 1250.4,234.5 1250.6,232.5 1250.7,230.7 1250.8,230 1250.9,228.6 1251,227.1 1251.1,225.5 1251.3,224 1251.4,222.9 1251.5,221.4 1251.6,219.9 1251.7,218.5 1251.8,217 1251.9,215.2 1252,213.7 1252.2,212.6 1252.3,211.1 1252.4,209.5 1252.5,207.4 1252.6,205.9 1252.7,204.5 1252.8,203.1 1252.9,201.7 1253.1,199.8 1253.2,198.5 1253.3,196.7 1253.4,195.2 1253.5,194.1 1253.6,192.5 1253.7,191.1 1253.8,189.4 1254,187.9 1254.1,186.1 1254.2,184.6 1254.3,183.3 1254.4,181.8 1254.5,179.7 1254.6,178.1 1254.7,177 1254.9,175.3 1255,173.8 1255.1,171.9 1255.2,170.5 1255.3,168.9 1255.4,167.7 1255.5,165.9 1255.6,164.7 1255.8,163.5 1255.9,161.6 1256,160.4 1256.1,159.2 1256.2,158.1 1256.3,156.4 1256.5,154.5 1256.6,152.3 1256.8,151.2 1257,148.6 1257.2,146.8 1257.4,145.6 1257.5,143.8 1257.7,142.5 1257.9,140.5 1258.1,139.6 1258.2,137.4 1258.4,136.3 1258.5,135.7 1258.6,133.9 1258.7,133.1 1258.8,133.5 1258.8,133.4 1258.9,133.1 1259,134.1 1259.1,135.3 1259.2,136.8 1259.3,137.6 1259.4,138.7 1259.5,140.7 1259.7,142 1259.8,143.9 1260,145.6 1260.1,147.3 1260.3,148.8 1260.4,151 1260.6,152.6 1260.7,154.7 1260.9,156.9 1261,158.4 1261.1,159.6 1261.1,160.4 1261.2,161.8 1261.3,163.1 1261.4,164.5 1261.5,165.9 1261.6,167.3 1261.7,168.6 1261.8,170.2 1261.9,171.9 1262,173.2 1262.1,174.9 1262.2,176.3 1262.3,177.7 1262.4,179.5 1262.5,181.2 1262.6,182.5 1262.6,183.9 1262.7,185.8 1262.8,187.4 1262.9,189 1263,190.8 1263.1,192.2 1263.2,193.9 1263.3,195.1 1263.4,196.9 1263.5,198.5 1263.5,199.8 1263.6,201.4 1263.7,203.1 1263.8,204.6 1263.8,205.8 1263.9,207.4 1264,208.7 1264,210.3 1264.1,211.7 1264.2,213.1 1264.2,214.5 1264.3,216.1 1264.4,217.5 1264.4,219 1264.5,220.4 1264.5,221.8 1264.6,223.4 1264.7,224.8 1264.7,226.2 1264.8,227.7 1264.8,229.2 1264.9,230.6 1264.9,232.1 1265,233.5 1265.1,235 1265.1,236.4 1265.2,237.9 1265.2,239.4 1265.3,240.8 1265.3,242.3 1265.4,243.8 1265.4,245.2 1265.5,246.6 1265.5,248.1 1265.6,249.6 1265.7,250.9 1265.7,252.3 1265.8,253.7 1265.8,255.2 1265.9,256.6 1265.9,257.8 1266,259.1 1266,260.5 1266.1,261.8 1266.2,263.1 1266.2,264.6 1266.3,265.7 1266.3,267.1 1266.4,268.4 1266.4,269.8 1266.5,271.2 1266.5,272.5 1266.6,273.8 1266.6,275.3 1266.7,276.7 1266.7,278.2 1266.8,279.5 1266.8,281 1266.9,282.5 1266.9,284.1 1267,285.7 1267,287.3 1267.1,289 1267.1,290.6 1267.2,292.4 1267.2,294.1 1267.3,296 1267.3,297.2 1267.4,298.4 1267.4,299.7 1267.4,300.9 1267.5,302.2 1267.5,303.4 1267.5,304.7 1267.6,306 1267.6,307.2 1267.6,308.6 1267.7,309.9 1267.7,311.2 1267.7,312.5 1267.7,313.8 1267.8,315.2 1267.8,316.6 1267.8,317.9 1267.9,319.3 1267.9,320.7 1267.9,322.1 1268,323.6 1268,325 1268,326.4 1268,327.8 1268.1,329.3 1268.1,330.8 1268.1,332.3 1268.2,333.8 1268.2,335.3 1268.2,336.8 1268.3,338.3 1268.3,339.8 1268.3,341.4 1268.3,343 1268.4,344.6 1268.4,346.1 1268.4,347.8 1268.5,349.3 1268.5,351 1268.5,352.6 1268.6,354.3 1268.6,355.9 1268.6,357.6 1268.6,359.3 1268.7,361.1 1268.7,362.7 1268.7,364.5 1268.8,366.2 1268.8,368 1268.8,369.3 1268.8,370.5 1268.9,371.9 1268.9,373.2 1268.9,374.5 1268.9,375.8 1268.9,377.2 1269,378.6 1269,380 1269,381.4 1269,382.8 1269,384.2 1269.1,385.7 1269.1,387.1 1269.1,388.6 1269.1,390 1269.1,391.5 1269.2,393 1269.2,394.5 1269.2,396 1269.2,397.5 1269.2,399.1 1269.3,400.6 1269.3,402.1 1269.3,403.7 1269.3,405.2 1269.3,406.8 1269.3,408.3 1269.4,409.9 1269.4,411.4 1269.4,413 1269.4,414.6 1269.4,416.2 1269.5,417.7 1269.5,419.3 1269.5,420.9 1269.5,422.4 1269.5,424 1269.6,425.6 1269.6,427.1 1269.6,428.7 1269.6,430.2 1269.6,431.8 1269.7,433.4 1269.7,434.9 1269.7,436.4 1269.7,438 1269.8,439.5 1269.8,441 1269.8,442.5 1269.8,444.1 1269.8,445.5 1269.9,447.1 1269.9,448.5 1269.9,450 1269.9,451.5 1270,452.9 1270,454.3 1270,455.8 1270,457.2 1270.1,458.6 1270.1,460 1270.1,461.3 1270.2,462.7 1270.2,464.1 1270.2,465.4 1270.2,466.7 1270.3,468 1270.3,469.3 1270.3,471 1270.4,472.7 1270.4,474.4 1270.5,476.2 1270.5,477.8 1270.6,479.5 1270.6,481.3 1270.7,482.9 1270.7,484.6 1270.8,486.2 1270.8,487.9 1270.9,489.6 1270.9,491.1 1271,492.8 1271,494.5 1271.1,496.2 1271.1,497.7 1271.2,499.3 1271.2,500.9 1271.3,502.4 1271.3,504 1271.4,505.5 1271.5,507.1 1271.5,508.5 1271.6,510.1 1271.6,511.6 1271.7,513.2 1271.7,514.6 1271.8,516.1 1271.9,517.4 1271.9,519 1272,520.4 1272,521.7 1272.1,523.1 1272.1,524.5 1272.2,525.7 1272.3,527.2 1272.3,528.6 1272.4,529.7 1272.4,531.1 1272.5,532.3 1272.5,533.4 1272.6,534.8 1272.6,535.9 1272.7,537 1272.7,538.1 1272.8,539.3 1272.8,540.5 1272.9,541.6 1273,542.6 1273,543.8 1273.1,546.1 1273.2,548.4 1273.4,550.5 1273.5,552.9 1273.6,554.4 1273.7,556.6 1273.8,558.1 1273.9,559.7 1274.1,561.3 1274.2,562.5 1274.3,564.3 1274.4,565.7 1274.5,566.8 1274.6,567.8 1274.7,568.5 1274.8,570.2 1274.9,570.8 1275,572.4 1275.1,572.8 1275.2,574.1 1275.3,575.3 1275.6,577.4 1275.8,580.1 1276,581.2 1276.2,582.4 1276.4,583.4 1276.6,586.8 1276.8,587.2 1277.1,585.8 1277.4,583.8 1277.7,583.1 1278.1,581 1278.4,577.8 1278.5,577.2 1278.7,576.6 1278.8,574.3 1279,573.7 1279.1,573.2 1279.2,571.7 1279.4,570.8 1279.5,569.6 1279.7,567.6 1279.9,566.1 1280,563.8 1280.2,561.5 1280.4,558.5 1280.5,557.7 1280.5,556.3 1280.6,555.5 1280.7,554.1 1280.7,553.2 1280.8,551.8 1280.9,550.5 1280.9,549.1 1281,547.8 1281.1,546.4 1281.1,544.9 1281.2,543.4 1281.3,541.8 1281.4,540.5 1281.4,538.8 1281.5,537.2 1281.6,535.5 1281.6,533.9 1281.7,532.3 1281.8,530.8 1281.9,529 1282,527.3 1282,525.7 1282.1,524.1 1282.2,522.3 1282.3,520.6 1282.3,519.2 1282.4,517.6 1282.5,516 1282.6,514.4 1282.6,512.9 1282.7,511.2 1282.8,509.8 1282.9,508.1 1283,506.7 1283,505.4 1283.1,504 1283.2,502.7 1283.3,501.2 1283.3,500.3 1283.4,499 1283.5,496.9 1283.6,495.1 1283.8,493.3 1283.9,491.5 1284,489.7 1284.1,488.5 1284.2,487 1284.3,485.3 1284.5,483.9 1284.6,482.1 1284.7,481 1284.8,479.1 1284.9,478.2 1285.1,476.7 1285.2,475.6 1285.3,473.6 1285.4,472.9 1285.6,470.9 1285.7,470.1 1285.8,469.2 1286,466.8 1286.1,465.8 1286.2,464.5 1286.4,463.2 1286.6,461.2 1286.8,460.6 1287,458.9 1287.2,456.7 1287.4,455 1287.6,453.7 1287.8,451.3 1288,449.6 1288.2,449.4 1288.4,446.9 1288.6,445.7 1288.9,445 1289.1,443.6 1289.3,441.2 1289.6,439.3 1289.8,438.1 1290,438.2 1290.3,436.9 1290.5,434 1290.8,434.5 1291.3,431.3 1291.7,429.9 1292.2,427.4 1292.7,428.3 1293.2,427.5 1293.7,423.6 1294.2,424 1294.8,421.2 1295.4,422.6 1296.1,418.3 1296.8,417.2 1297.5,418.3 1298.3,415.5 1299.2,416.4 1300.1,415.1 1301,413.2 1302,409.7 1303,410.6 1303.9,410.3 1304.8,407.2 1305.7,404.6 1306.5,403.9 1307.2,403.1 1308.1,403 1308.8,399.6 1309.5,398.1 1310.2,396.8 1310.8,396.9 1311.4,395.9 1312,393.1 1312.6,392.8 1313.2,392.4 1314,389.9 1314.8,387.3 1315.5,386.5 1316.3,387.7 1317.1,385.6 1318,382.8 1319,382.5 1319.6,379.4 1320.3,381.5 1321,378.2 1321.7,377.1 1322.5,375.7 1323.2,372.4 1324,373 1324.8,370.4 1325.6,368.9 1326.4,369.7 1327.2,365.9 1328,365.6 1329.2,366.1 1330.5,362.9 1331.8,362 1333.1,362.2 1334.4,360 1335.6,362 1336.8,361.7 1338,357.2 1339.5,357.8 1340.9,358 1342.3,355.6 1343.6,357 1344.8,354.8 1345.9,353.2 1347.7,355.2 1349.1,356.8 1350.5,357.5 1351.3,359.7 1352.1,361.2 1352.9,361.5 1353.7,363.1 1354.8,366.3 1355.4,366.7 1356,367.3 1356.7,370.2 1357.5,368.8 1358.2,372.4 1359,371.7 1359.7,374.7 1360.4,374.9 1361.1,377 1361.7,379.5 1362.3,380.8 1363,382.4 1363.5,382 1364,384.3 1364.5,384.8 1364.9,387.3 1365.3,388.4 1365.6,388.2 1366,391.3 1366.5,393 1366.9,393.5 1367.2,395.1 1367.6,394.6 1367.9,396.8 1368.2,400 1368.3,401.7 1368.3,402.6 1368.4,403.7 1368.5,404.7 1368.6,406.1 1368.6,407.1 1368.7,408.6 1368.8,409.8 1368.8,411.1 1368.9,412.6 1369,413.9 1369,415.3 1369.1,416.9 1369.2,418.4 1369.2,420 1369.3,421.7 1369.3,423.3 1369.4,425 1369.5,426.7 1369.5,428.4 1369.6,430.3 1369.6,432 1369.7,433.8 1369.8,435.7 1369.8,437.6 1369.9,439.5 1369.9,440.8 1370,441.9 1370,443.3 1370.1,444.6 1370.1,446 1370.1,447.5 1370.2,448.8 1370.2,450.3 1370.3,451.8 1370.3,453.3 1370.3,454.7 1370.4,456.3 1370.4,457.9 1370.5,459.4 1370.5,461 1370.6,462.6 1370.6,464.2 1370.6,465.8 1370.7,467.4 1370.7,469 1370.8,470.6 1370.8,472.2 1370.8,473.9 1370.9,475.5 1370.9,477 1370.9,478.6 1371,480.2 1371,481.8 1371.1,483.3 1371.1,484.8 1371.1,486.4 1371.2,487.8 1371.2,489.3 1371.3,490.8 1371.3,492.2 1371.3,493.5 1371.4,494.9 1371.4,496.2 1371.4,497.5 1371.5,498.8 1371.5,500 1371.6,501.9 1371.6,503.8 1371.7,505.7 1371.7,507.4 1371.8,509.2 1371.8,511.1 1371.9,512.8 1371.9,514.6 1372,516.2 1372,517.9 1372.1,519.5 1372.1,521.1 1372.2,522.6 1372.2,524.1 1372.3,525.6 1372.3,527 1372.4,528.4 1372.4,529.7 1372.5,531 1372.5,532.2 1372.6,533.3 1372.6,534.2 1372.6,535.3 1372.6,536.1 1372.7,537.1 1372.7,537.6 1372.7,537.5 1372.7,537 1372.7,536.3 1372.7,535.5 1372.8,534.7 1372.8,533.9 1372.8,533 1372.8,532.1 1372.8,531.2 1372.8,530.2 1372.8,529.3 1372.9,528.3 1372.9,527.3 1372.9,526.3 1372.9,525.2 1372.9,524.1 1373,523 1373,521.9 1373,520.7 1373,519.6 1373,518.4 1373.1,517.2 1373.1,516 1373.1,514.8 1373.1,513.5 1373.1,512.2 1373.2,510.9 1373.2,509.6 1373.2,508.3 1373.2,507 1373.3,505.6 1373.3,504.3 1373.3,502.9 1373.3,501.5 1373.4,500.1 1373.4,498.6 1373.4,497.2 1373.4,495.7 1373.5,494.2 1373.5,492.7 1373.5,491.2 1373.5,489.8 1373.6,488.2 1373.6,486.7 1373.6,485.2 1373.6,483.6 1373.7,482 1373.7,480.4 1373.7,478.8 1373.8,477.2 1373.8,475.6 1373.8,474 1373.8,472.4 1373.9,470.8 1373.9,469.2 1373.9,467.5 1373.9,465.9 1374,464.2 1374,462.5 1374,460.9 1374.1,459.2 1374.1,457.5 1374.1,455.8 1374.1,454.1 1374.2,452.4 1374.2,450.7 1374.2,449 1374.3,447.3 1374.3,445.6 1374.3,443.9 1374.3,442.2 1374.4,440.5 1374.4,438.8 1374.4,437.1 1374.5,435.4 1374.5,433.7 1374.5,431.9 1374.5,430.2 1374.6,428.5 1374.6,426.8 1374.6,425.1 1374.6,423.4 1374.7,421.7 1374.7,420 1374.7,418.3 1374.8,416.6 1374.8,414.9 1374.8,413.2 1374.8,411.6 1374.9,409.9 1374.9,408.2 1374.9,406.6 1374.9,404.9 1375,403.3 1375,401.6 1375,400 1375,398.7 1375,397.3 1375.1,396 1375.1,394.6 1375.1,393.2 1375.1,391.8 1375.1,390.4 1375.2,389 1375.2,387.5 1375.2,386.1 1375.2,384.6 1375.2,383.1 1375.3,381.6 1375.3,380.1 1375.3,378.6 1375.3,377.1 1375.3,375.5 1375.4,373.9 1375.4,372.4 1375.4,370.8 1375.4,369.2 1375.4,367.6 1375.5,366 1375.5,364.4 1375.5,362.8 1375.5,361.1 1375.6,359.5 1375.6,357.9 1375.6,356.2 1375.6,354.5 1375.6,352.9 1375.7,351.2 1375.7,349.5 1375.7,347.8 1375.7,346.2 1375.7,344.5 1375.8,342.8 1375.8,341.1 1375.8,339.4 1375.8,337.7 1375.9,336 1375.9,334.3 1375.9,332.6 1375.9,330.9 1375.9,329.2 1376,327.5 1376,325.8 1376,324 1376,322.3 1376.1,320.6 1376.1,318.9 1376.1,317.2 1376.1,315.5 1376.1,313.8 1376.2,312.1 1376.2,310.4 1376.2,308.7 1376.2,307.1 1376.2,305.4 1376.3,303.7 1376.3,302 1376.3,300.4 1376.3,298.7 1376.3,297.1 1376.4,295.4 1376.4,293.8 1376.4,292.2 1376.4,290.5 1376.4,288.9 1376.5,287.3 1376.5,285.7 1376.5,284.1 1376.5,282.6 1376.5,281 1376.6,279.5 1376.6,277.9 1376.6,276.4 1376.6,274.9 1376.6,273.4 1376.7,271.9 1376.7,270.4 1376.7,268.9 1376.7,267.4 1376.7,266 1376.7,264.6 1376.8,263.2 1376.8,261.8 1376.8,260.4 1376.8,259 1376.8,257.7 1376.8,256.3 1376.9,255 1376.9,253.7 1376.9,252.5 1376.9,251.2 1376.9,249.9 1376.9,248.7 1377,247.5 1377,246.3 1377,245.2 1377,244 1377,242.9 1377,241.8 1377,240.7 1377.1,239.6 1377.1,238.6 1377.1,237.6 1377.1,236.6 1377.1,235.6 1377.1,234.7 1377.1,233.7 1377.1,232.8 1377.1,232 1377.2,231.1 1377.2,230.3 1377.2,229.5 1377.2,228.7 1377.2,228.4 1377.2,227.6 1377.2,228.6 1377.3,229.7 1377.3,230.8 1377.4,232 1377.4,233.1 1377.5,234.5 1377.5,235.8 1377.6,237.4 1377.6,239 1377.7,240.5 1377.8,242.2 1377.8,243.9 1377.9,245.7 1378,247.2 1378.1,249 1378.1,250.8 1378.2,252.5 1378.3,254.3 1378.3,255.8 1378.4,257.5 1378.5,259 1378.5,260.6 1378.6,261.9 1378.7,263.4 1378.7,264.9 1378.8,266.6 1378.9,267.8 1378.9,269.3 1379,270.5 1379,271.9 1379.1,273.2 1379.2,274.7 1379.2,275.9 1379.3,277.4 1379.3,278.7 1379.4,280.1 1379.5,281.7 1379.6,283.1 1379.6,284.7 1379.7,286.2 1379.8,287.9 1379.9,289.9 1380,291.5 1380.1,293.3 1380.2,294.6 1380.2,296 1380.3,297.6 1380.4,298.7 1380.5,300.4 1380.6,301.8 1380.6,303.3 1380.7,305.1 1380.8,306.6 1380.9,308.1 1381,310 1381.1,311.7 1381.2,313.4 1381.3,315 1381.4,317 1381.5,318.6 1381.6,320.4 1381.7,321.9 1381.8,323.8 1381.9,325.4 1382,326.8 1382.1,328.3 1382.2,330 1382.3,331.5 1382.3,333 1382.4,334.6 1382.5,336.2 1382.6,337.3 1382.7,338.7 1382.8,339.6 1382.9,340.9 1382.9,342.5 1383,342.7 1383.1,344.1 1383.5,348.6 1383.8,350.9 1384.1,351.9 1384.4,351.5 1384.7,353.2 1385,354.1 1385.6,355.7 1386.1,358 1386.8,356.2 1387.6,360.7 1388.5,360 1389.5,362.4 1390.6,361.9 1392,365.6 1393.2,363 1394.4,366 1395.8,365.4 1397.4,366.7 1399.5,367 1400.7,368.2 1402,368.8 1403.3,367 1404.7,368 1406.2,366.7 1407.8,366.2 1409.5,368.6 1411.3,366.1 1413.1,365 1415,365.8 1416.3,367.4 1417.7,365.2 1419.3,367.3 1420.9,366.4 1422.6,366.9 1424.3,364.8 1426,364.4 1427.8,364.5 1429.5,365.3 1431.1,365.5 1432.7,363.8 1434.2,365.7 1435.5,365.2 1436.7,364.9 1437.8,365.7 1438.6,367.3" fill="none" stroke="#555555" stroke-width="1.6" stroke-linejoin="round"/>
<path d="M1080.2 366.1L1081.1 366.5L1082.2 367.9L1083.4 366.1L1084.9 366.2L1086.4 366.5L1088.1 364.8L1089.8 366L1091.5 366.5L1093.2 367L1094.9 364.2L1096.4 364.9L1097.9 364L1099.6 366.8L1101.3 366.2L1103.1 363.5L1104.8 367.2L1106.6 367L1108.2 365.7L1109.8 365.4L1111.3 363.6L1112.7 363L1113.9 365L1116.9 363.4L1118.4 364.5L1119.8 365.5L1121.5 365.8L1122.9 368.8L1124.2 370.3L1125 373.1L1125.8 373.3L1126.5 375.3L1127.1 376.5L1127.5 378.3L1127.9 378.7L1128.2 379.4L1128.5 383L1128.8 384.7L1129.1 386.7L1129.2 387.4L1129.3 387.6L1129.4 388.5L1129.6 389.7L1129.7 390.5L1129.8 392.7L1129.9 393.4L1130.1 395.3L1129.6 395.3L1129.4 393.5L1129.2 392.8L1129.1 390.6L1128.9 389.8L1128.7 388.6L1128.5 387.8L1128.3 387.5L1128.1 386.9L1127.5 385L1127 383.4L1126.5 379.9L1125.9 379.4L1125.4 379.1L1124.9 377.5L1124.2 376.4L1123.4 374.7L1122.6 374.8L1121.8 372.3L1120.7 371.1L1119.5 368.4L1118.2 368.4L1117.2 367.6L1116.1 366.7L1113.5 368.4L1112.5 366.4L1111.3 367L1109.9 368.8L1108.4 369.1L1106.7 370.4L1105 370.6L1103.3 366.9L1101.5 369.6L1099.8 370.2L1098.1 367.4L1096.5 368.3L1095.1 367.6L1093.4 370.4L1091.6 369.9L1089.9 369.4L1088.2 368.2L1086.5 369.9L1085 369.6L1083.6 369.5L1082.3 371.3L1081.2 369.9L1080.4 369.5ZM1143.1 334.8L1143.4 336.6L1143.6 337L1143.8 339.1L1144.1 340.9L1144.3 341.7L1144.6 343.3L1144.8 343.4L1145.1 344.2L1145.3 345.3L1145.6 346.2L1146.1 349.5L1146.6 351.1L1147.2 352.7L1147.8 352.5L1148.4 353.6L1149 354.6L1149.7 358L1150.6 359.8L1151.6 360.7L1152.7 358.5L1153.7 359.2L1154.7 363.3L1155.7 361.7L1156.7 362.9L1157.9 361L1159.2 361.1L1160.6 360.7L1162 359.6L1163.4 359.5L1164.5 356.5L1165.5 358.4L1166.6 358L1167.7 354.4L1168.8 354.4L1169.9 354.5L1171.1 352.2L1172.3 350.5L1173.9 349.3L1175.6 349.6L1177.3 346.7L1179.1 349.4L1180.8 348.4L1182.6 347.8L1184.5 348.9L1185.7 349.5L1186.7 350.8L1187.2 352.9L1187.6 354L1188.2 357.2L1188.8 358.2L1189.4 357.9L1190.1 361.6L1190.8 362.3L1191.6 363.7L1192.5 365L1193.4 364.6L1194.3 367.6L1195.3 368.5L1196.1 368.6L1197.2 370L1198.1 371L1199.1 370.2L1200.3 371.6L1201.3 369L1202.4 370L1203.7 370.2L1205.2 367.9L1206.6 368.6L1208 368.6L1208.7 367.9L1209.4 365.6L1210.2 367.5L1210.9 365.4L1211.7 363L1212.5 363L1213.3 361.4L1214.1 359.9L1214.9 357.9L1215.8 358.7L1216.7 355.8L1217.4 354.9L1218.1 354L1218.8 353.6L1219.5 348.9L1220.3 349.8L1221.1 349L1221.9 345.9L1222.7 345.1L1223.5 342.5L1224.2 341.7L1225 341L1225.8 338.6L1226.5 337.8L1227.3 338.8L1228 336.2L1228.7 334.7L1229.3 335L1230 332.2L1230.6 332.3L1231.2 329.7L1231.8 329L1232.4 325L1233 325.5L1233.6 324.6L1234.2 320.8L1234.7 322.4L1235.3 318.4L1235.8 318L1236.3 315.6L1236.9 315.2L1237.4 314.1L1237.9 310.9L1238.3 312.2L1238.7 309.2L1239.2 308.1L1239.6 306.8L1239.9 304.8L1240.3 303.1L1240.7 302.6L1241 300.9L1241.4 298.7L1241.7 298.2L1242 295.7L1242.3 293.6L1242.6 292.6L1242.9 290.6L1243.2 289.3L1243.5 289L1243.8 286.7L1244 286.3L1244.3 284.6L1244.5 281.8L1244.8 282.1L1245 280.5L1245.2 277.6L1245.4 277.5L1245.6 275.2L1245.8 273.8L1246 273.1L1246.2 270.5L1246.4 269.4L1246.6 268.5L1246.8 266.7L1247 264.9L1247.1 264L1247.3 262.3L1247.5 260.6L1247.7 258.5L1247.8 257.7L1248 256L1248.2 254.3L1248.3 252.7L1248.5 251.9L1248.6 250L1248.8 249L1249.2 249L1249.1 250.1L1248.9 251.9L1248.8 252.7L1248.6 254.3L1248.5 256.1L1248.3 257.7L1248.1 258.5L1248 260.6L1247.8 262.4L1247.6 264.1L1247.5 264.9L1247.3 266.8L1247.1 268.6L1246.9 269.5L1246.8 270.6L1246.6 273.1L1246.4 273.9L1246.2 275.3L1246 277.6L1245.9 277.7L1245.7 280.6L1245.5 282.2L1245.3 281.9L1245.1 284.7L1244.9 286.4L1244.6 286.9L1244.4 289.2L1244.1 289.5L1243.9 290.8L1243.6 292.8L1243.3 293.8L1243.1 295.9L1242.8 298.4L1242.5 298.9L1242.2 301.1L1241.9 302.9L1241.6 303.4L1241.3 305.1L1241 307.2L1240.6 308.5L1240.3 309.6L1239.9 312.6L1239.5 311.4L1239.1 314.6L1238.7 315.8L1238.2 316.2L1237.7 318.7L1237.3 319.1L1236.7 323.1L1236.2 321.6L1235.7 325.4L1235.1 326.3L1234.6 325.9L1234 329.9L1233.4 330.7L1232.8 333.3L1232.2 333.2L1231.6 336L1230.9 335.8L1230.3 337.3L1229.6 340L1228.9 339L1228.1 339.9L1227.4 342.3L1226.6 343L1225.8 343.9L1225 346.5L1224.2 347.3L1223.5 350.4L1222.7 351.3L1221.9 350.3L1221.2 355.1L1220.5 355.5L1219.8 356.4L1219.1 357.2L1218.2 360.1L1217.3 359.3L1216.4 361.3L1215.6 362.8L1214.8 364.5L1214.1 364.6L1213.3 367.1L1212.5 369.3L1211.7 367.7L1210.9 370.2L1210 371.3L1208.3 371.4L1206.5 371L1204.8 373.4L1203 373.3L1201.3 372.4L1199.7 374.9L1197.8 373.3L1196.4 373.8L1195.2 372.6L1193.9 370.9L1193 370.6L1192 369.5L1191.1 366.5L1190.1 366.7L1189.2 365.2L1188.4 363.5L1187.8 362.7L1187.2 358.8L1186.7 359L1186.1 358L1185.5 354.9L1184.9 354L1184.3 352.4L1183.4 351.7L1182.9 351.8L1181.8 351.1L1181.2 351.7L1180.2 352.5L1178.8 349.7L1177.2 352.5L1175.6 352.1L1174.1 353.1L1173.1 354.7L1172 356.9L1170.9 356.8L1169.8 356.8L1168.7 360.4L1167.5 360.9L1166.4 359.2L1165.2 362.3L1163.6 362.5L1161.9 363.8L1160.3 364.3L1158.5 364.3L1156.8 366.3L1155.1 365L1153.5 366.4L1151.9 362L1150.6 360.9L1149.3 362.9L1148.3 361.7L1147.3 359.6L1146.6 356L1146.1 354.7L1145.7 353.3L1145.4 353.3L1145.1 351.6L1144.7 349.9L1144.4 346.5L1144.2 345.5L1144 344.4L1143.9 343.5L1143.7 343.4L1143.5 341.8L1143.3 341L1143.2 339.1L1143 337.1L1142.9 336.7L1142.7 334.9ZM1257.2 145.6L1257.3 143.8L1257.5 142.5L1257.7 140.5L1257.8 139.6L1258 137.4L1258.1 136.3L1258.3 135.7L1258.4 133.9L1258.3 133.1L1257.7 133L1259.9 132.9L1259.2 133.1L1258.5 133.2L1257.7 133.9L1259.9 134L1259.1 133.2L1258.8 133.9L1258.7 135.7L1258.6 136.3L1258.4 137.4L1258.3 139.7L1258.1 140.5L1257.9 142.5L1257.8 143.9L1257.6 145.6ZM1275.8 577.4L1276 580L1276.3 581.2L1276.6 582.3L1277.1 583.3L1277.8 586.1L1276.2 585.6L1276 585.3L1276.7 583.6L1277.2 583L1277.6 580.9L1278 577.7L1278.2 577.1L1278.3 576.5L1278.5 574.3L1278.6 573.7L1278.8 573.2L1279 571.6L1279.2 570.8L1279.6 570.8L1279.5 571.7L1279.4 573.2L1279.3 573.8L1279.2 574.4L1279 576.6L1278.9 577.2L1278.8 577.8L1278.5 581.1L1278.3 583.2L1278.2 583.9L1278.2 586.3L1277.4 588.7L1275.4 587.5L1275.7 583.6L1275.8 582.4L1275.7 581.3L1275.6 580.1L1275.4 577.4ZM1285.6 469.2L1285.8 466.8L1285.9 465.8L1286 464.5L1286.2 463.2L1286.4 461.2L1286.5 460.6L1286.7 458.9L1286.9 456.7L1287.1 455L1287.3 453.7L1287.5 451.2L1287.7 449.6L1287.9 449.4L1288.1 446.8L1288.3 445.6L1288.5 444.9L1288.7 443.5L1288.9 441.1L1289.1 439.2L1289.3 438L1289.5 438.1L1289.7 436.8L1289.9 433.8L1290.1 434.4L1290.5 431.1L1290.9 429.7L1291.3 427.1L1291.7 428L1292.1 427.1L1292.6 423.1L1293.1 423.4L1293.7 420.7L1294.3 422L1294.9 417.7L1295.6 416.5L1296.3 417.6L1297.1 414.7L1298 415.6L1298.9 414.2L1299.9 412.3L1300.8 408.8L1301.8 409.7L1302.7 409.4L1303.6 406.3L1304.5 403.8L1305.3 403.2L1306 402.4L1306.9 402.4L1307.7 399.1L1308.4 397.6L1309.1 396.3L1309.7 396.4L1310.3 395.4L1310.8 392.6L1311.4 392.3L1312 391.8L1312.8 389.2L1313.6 386.6L1314.3 385.7L1315.1 386.9L1315.9 384.8L1316.8 382L1317.8 381.8L1318.5 378.7L1319.1 380.8L1319.8 377.5L1320.6 376.5L1321.3 375L1322.1 371.8L1322.8 372.4L1323.6 369.8L1324.4 368.2L1325.2 368.9L1326 364.9L1326.8 364.6L1328.1 364.9L1329.4 361.7L1330.8 360.8L1332.1 360.9L1333.5 358.6L1334.7 360.6L1336 360.3L1337.1 355.8L1338.6 356.5L1340 356.6L1341.5 354.2L1343 355.4L1344.7 353.1L1346.3 351.6L1348.4 353.7L1350.1 355.5L1351.6 356.3L1352.5 358.8L1353.3 360.5L1354.1 360.8L1354.9 362.4L1356 365.6L1356.5 366.1L1357.2 366.7L1357.9 369.6L1358.6 368.2L1359.4 371.8L1360.1 371.1L1360.9 374.2L1361.6 374.3L1362.2 376.5L1362.9 379L1363.4 380.3L1364 382L1364.5 381.6L1365 384L1365.4 384.5L1365.8 387.1L1366.1 388.1L1366.5 388L1366.9 391L1367.4 392.7L1367.7 393.2L1367.9 394.9L1368.1 394.5L1368.3 396.7L1368.5 400L1367.9 400L1367.5 396.8L1367 394.7L1366.6 395.2L1366 393.7L1365.5 393.4L1365.1 391.6L1364.7 388.5L1364.4 388.6L1364 387.6L1363.6 385.1L1363.1 384.6L1362.5 382.4L1361.9 382.8L1361.2 381.2L1360.6 380L1360 377.5L1359.3 375.4L1358.6 375.3L1357.8 372.3L1357 373L1356.3 369.4L1355.6 370.8L1354.9 368L1354.2 367.4L1353.6 366.9L1352.6 363.7L1351.7 362.3L1350.9 362L1350.1 360.5L1349.4 358.6L1348.1 358.2L1347 356.7L1345.5 354.9L1344.9 356.4L1344.2 358.6L1343.1 357.1L1341.8 359.4L1340.4 359.2L1338.9 358.5L1337.7 363L1336.5 363.4L1335.3 361.3L1334 363.5L1332.8 363.3L1331.5 364.1L1330.3 367.2L1329.2 366.6L1328.4 366.8L1327.6 370.6L1326.8 369.7L1326 371.1L1325.2 373.7L1324.4 373.1L1323.6 376.3L1322.9 377.7L1322.2 378.8L1321.5 382.1L1320.8 380.1L1320.2 383.2L1319.2 383.5L1318.3 386.3L1317.5 388.5L1316.7 387.3L1316 388.1L1315.2 390.6L1314.4 393L1313.7 393.4L1313.1 393.6L1312.5 396.4L1311.9 397.4L1311.3 397.3L1310.7 398.6L1310 400.2L1309.2 403.7L1308.4 403.8L1307.7 404.7L1306.9 405.4L1306 408L1305.1 411.1L1304.1 411.5L1303.2 410.6L1302.2 414.1L1301.3 415.9L1300.4 417.3L1299.5 416.3L1298.7 419L1298 417.9L1297.3 419L1296.6 423.2L1296 421.8L1295.4 424.5L1294.8 424.1L1294.2 427.9L1293.7 428.7L1293.1 427.7L1292.6 430.1L1292 431.5L1291.5 434.7L1291.2 434.1L1290.9 437L1290.6 438.3L1290.3 438.2L1290 439.3L1289.7 441.3L1289.5 443.7L1289.2 445L1289 445.7L1288.7 446.9L1288.5 449.5L1288.3 449.7L1288.1 451.3L1287.8 453.7L1287.6 455L1287.4 456.7L1287.2 458.9L1287 460.7L1286.8 461.2L1286.6 463.2L1286.5 464.5L1286.3 465.8L1286.2 466.8L1286 469.3ZM1383.3 344.1L1383.8 348.5L1384.3 350.8L1384.7 351.8L1385.2 351.2L1385.7 352.8L1386.1 353.7L1386.7 355.2L1387.3 357.4L1388 355.6L1388.8 359.9L1389.7 359.1L1390.6 361.4L1391.7 360.8L1393 364.4L1394.1 361.6L1395.2 364.6L1396.4 363.9L1397.9 365.1L1399.8 365.3L1400.9 366.5L1402 367.1L1403.2 365.3L1404.6 366.3L1406.1 365L1407.7 364.5L1409.4 366.9L1411.1 364.4L1413 363.3L1414.9 364.1L1416.2 365.7L1417.6 363.5L1419.2 365.6L1420.8 364.7L1422.5 365.2L1424.2 363.1L1426 362.7L1427.7 362.8L1429.4 363.6L1431.1 363.8L1432.6 362.1L1434.1 364L1435.5 363.5L1436.7 363.2L1437.7 364L1438.5 365.6L1438.7 369L1437.8 367.4L1436.8 366.6L1435.6 366.9L1434.2 367.4L1432.8 365.5L1431.2 367.2L1429.5 367L1427.8 366.2L1426.1 366.1L1424.4 366.5L1422.6 368.6L1421 368.1L1419.3 369L1417.8 366.9L1416.4 369.1L1415.1 367.5L1413.2 366.7L1411.4 367.8L1409.7 370.3L1408 367.9L1406.4 368.4L1404.9 369.7L1403.4 368.7L1401.9 370.5L1400.5 369.9L1399.2 368.6L1396.9 368.3L1395.1 367L1393.6 367.5L1392.2 364.3L1391 366.8L1389.5 363L1388.3 363.5L1387.3 360.9L1386.4 361.4L1385.6 356.8L1385 358.5L1384.5 356.2L1383.9 354.6L1383.6 353.6L1383.5 351.8L1383.5 352L1383.3 351L1383.1 348.6L1382.9 344.2Z" fill="#161616" stroke="none"/>
</g>
<g id="marks">
<text transform="translate(189.6 478) scale(1.1 0.97)" x="0" y="17.0" text-anchor="middle" class="st" font-size="35">*</text>
<text transform="translate(427.8 483.5) scale(1.1 0.97)" x="0" y="17.0" text-anchor="middle" class="st" font-size="35">*</text>
<text transform="translate(668 318.5) scale(1.1 0.97)" x="0" y="17.0" text-anchor="middle" class="st" font-size="35">*</text>
<text transform="translate(905.2 318.5) scale(1.1 0.97)" x="0" y="17.0" text-anchor="middle" class="st" font-size="35">*</text>
<text transform="translate(1138.2 177.5) scale(1.1 0.97)" x="0" y="17.0" text-anchor="middle" class="st" font-size="35">*</text>
<text transform="translate(1378.2 192.8) scale(1.1 0.97)" x="0" y="17.0" text-anchor="middle" class="st" font-size="35">*</text>
<path d="M715.6 299.6V318.6" stroke="#1e1e1e" stroke-width="2" fill="none"/>
<path d="M709.3 316.6L721.9 316.6L715.6 340.4Z" fill="#1e1e1e"/>
<path d="M870.1 310.6V324.4" stroke="#1e1e1e" stroke-width="2" fill="none"/>
<path d="M864.1 322.4L876.1 322.4L870.1 345.2Z" fill="#1e1e1e"/>
</g>
<g id="labels">
<text x="857.2" y="427.3" class="lb" lengthAdjust="spacingAndGlyphs" textLength="97.6">10 kGy</text>
<text x="862.2" y="683" class="lb" lengthAdjust="spacingAndGlyphs" textLength="97.6">25 kGy</text>
<text x="1324.6" y="109.3" class="lb" lengthAdjust="spacingAndGlyphs" textLength="98.4">10 kGy</text>
<text x="1332.7" y="877.2" class="lb" lengthAdjust="spacingAndGlyphs" textLength="97.6">25 kGy</text>
<text x="144.6" y="73.8" class="pl">a</text>
<text x="621.2" y="75.6" class="pl">b</text>
<text x="1092.2" y="71.3" class="pl">c</text>
<text x="628.8" y="1055" class="ax" textLength="365.5">Magnetic field, mT</text>
<text transform="translate(40.3 604.4) rotate(-90)" class="ax" textLength="277">Intensity, a. u.</text>
</g>
</svg>
</body>
</html>
